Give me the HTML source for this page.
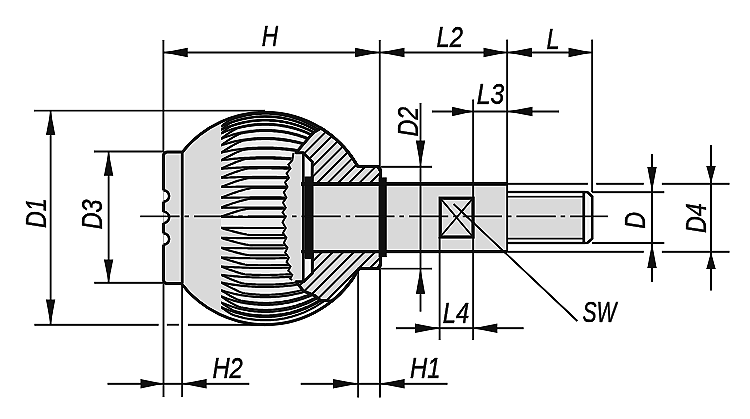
<!DOCTYPE html>
<html><head><meta charset="utf-8"><style>html,body{margin:0;padding:0;background:#fff;width:750px;height:419px;overflow:hidden}svg{display:block}</style></head>
<body><svg width="750" height="419" viewBox="0 0 750 419"><filter id="sh" x="0" y="0" width="100%" height="100%" color-interpolation-filters="sRGB"><feConvolveMatrix order="3" kernelMatrix="0 -0.35 0 -0.35 2.4 -0.35 0 -0.35 0" edgeMode="duplicate"/></filter><g filter="url(#sh)"><rect width="750" height="419" fill="#fff"/><path d="M163.5,155.90 Q163.5,151.90 167.5,151.90 L182.48,151.90 A106.2,106.2 0 0 1 357.85,166.60 L377.7,166.60 Q380.5,167.10 380.5,171.30 L380.5,263.90 Q380.5,268.10 377.7,268.60 L358.84,268.60 A106.2,106.2 0 0 1 181.14,283.40 L167.5,283.40 Q163.5,283.40 163.5,279.40 Z" fill="#d9d9d9" stroke="none"/>
<rect x="313" y="183.9" width="194.2" height="67.7" fill="#d9d9d9"/>

<clipPath id="kc"><polygon points="221.00,122.93 221.00,121.93 224.33,120.48 227.67,119.15 231.00,117.96 234.33,116.88 237.67,115.93 241.00,115.09 244.33,114.37 247.67,113.76 251.00,113.25 254.33,112.86 257.67,112.57 261.00,112.38 264.33,112.30 267.67,112.33 271.00,112.46 274.33,112.69 277.67,113.03 281.00,113.48 284.33,114.04 287.67,114.70 291.00,115.48 294.33,116.37 297.67,117.38 301.00,118.52 304.33,119.77 307.67,121.16 311.00,122.68 314.33,124.35 317.67,126.17 321.00,128.14 313.20,132.60 296.00,152.80 293.01,152.80 292.45,154.95 291.90,157.10 291.37,159.25 290.85,161.40 290.36,163.55 289.89,165.70 289.44,167.85 289.00,170.00 288.59,172.15 288.19,174.30 287.81,176.45 287.46,178.60 287.12,180.75 286.80,182.90 286.50,185.05 286.22,187.20 285.96,189.35 285.71,191.50 285.49,193.65 285.29,195.80 285.10,197.95 284.94,200.10 284.79,202.25 284.66,204.40 284.55,206.55 284.46,208.70 284.39,210.85 284.34,213.00 284.31,215.15 284.30,217.30 284.31,219.45 284.33,221.60 284.38,223.75 284.44,225.90 284.53,228.05 284.63,230.20 284.75,232.35 284.89,234.50 285.05,236.65 285.23,238.80 285.43,240.95 285.65,243.10 285.89,245.25 286.14,247.40 286.42,249.55 286.71,251.70 287.03,253.85 287.36,256.00 287.71,258.15 288.08,260.30 288.47,262.45 288.88,264.60 289.31,266.75 289.76,268.90 290.23,271.05 290.72,273.20 291.22,275.35 291.75,277.50 292.29,279.65 292.85,281.80 296.00,281.80 303.50,291.00 315.50,296.00 320.50,300.30 332.00,301.06 328.30,303.92 324.60,306.53 320.90,308.92 317.20,311.10 313.50,313.08 309.80,314.88 306.10,316.51 302.40,317.97 298.70,319.28 295.00,320.43 291.30,321.44 287.60,322.31 283.90,323.04 280.20,323.64 276.50,324.10 272.80,324.43 269.10,324.63 265.40,324.70 261.70,324.64 258.00,324.46 254.30,324.14 250.60,323.69 246.90,323.11 243.20,322.40 239.50,321.54 235.80,320.55 232.10,319.41 228.40,318.12 224.70,316.67 221.00,315.07"/></clipPath>
<g clip-path="url(#kc)"><polygon points="221.00,122.93 221.00,121.93 224.33,120.48 227.67,119.15 231.00,117.96 234.33,116.88 237.67,115.93 241.00,115.09 244.33,114.37 247.67,113.76 251.00,113.25 254.33,112.86 257.67,112.57 261.00,112.38 264.33,112.30 267.67,112.33 271.00,112.46 274.33,112.69 277.67,113.03 281.00,113.48 284.33,114.04 287.67,114.70 291.00,115.48 294.33,116.37 297.67,117.38 301.00,118.52 304.33,119.77 307.67,121.16 311.00,122.68 314.33,124.35 317.67,126.17 321.00,128.14 313.20,132.60 296.00,152.80 293.01,152.80 292.45,154.95 291.90,157.10 291.37,159.25 290.85,161.40 290.36,163.55 289.89,165.70 289.44,167.85 289.00,170.00 288.59,172.15 288.19,174.30 287.81,176.45 287.46,178.60 287.12,180.75 286.80,182.90 286.50,185.05 286.22,187.20 285.96,189.35 285.71,191.50 285.49,193.65 285.29,195.80 285.10,197.95 284.94,200.10 284.79,202.25 284.66,204.40 284.55,206.55 284.46,208.70 284.39,210.85 284.34,213.00 284.31,215.15 284.30,217.30 284.31,219.45 284.33,221.60 284.38,223.75 284.44,225.90 284.53,228.05 284.63,230.20 284.75,232.35 284.89,234.50 285.05,236.65 285.23,238.80 285.43,240.95 285.65,243.10 285.89,245.25 286.14,247.40 286.42,249.55 286.71,251.70 287.03,253.85 287.36,256.00 287.71,258.15 288.08,260.30 288.47,262.45 288.88,264.60 289.31,266.75 289.76,268.90 290.23,271.05 290.72,273.20 291.22,275.35 291.75,277.50 292.29,279.65 292.85,281.80 296.00,281.80 303.50,291.00 315.50,296.00 320.50,300.30 332.00,301.06 328.30,303.92 324.60,306.53 320.90,308.92 317.20,311.10 313.50,313.08 309.80,314.88 306.10,316.51 302.40,317.97 298.70,319.28 295.00,320.43 291.30,321.44 287.60,322.31 283.90,323.04 280.20,323.64 276.50,324.10 272.80,324.43 269.10,324.63 265.40,324.70 261.70,324.64 258.00,324.46 254.30,324.14 250.60,323.69 246.90,323.11 243.20,322.40 239.50,321.54 235.80,320.55 232.10,319.41 228.40,318.12 224.70,316.67 221.00,315.07" fill="#eaeaea"/><polygon points="221.00,124.00 222.98,123.02 224.97,122.10 226.95,121.22 228.93,120.40 230.92,119.63 230.92,119.97 228.93,120.74 226.95,121.96 224.97,123.38 222.98,124.94 221.00,126.60" fill="#d9d9d9"/><polygon points="221.00,126.60 222.98,125.65 224.97,124.75 226.95,123.90 228.93,123.10 230.92,122.35 232.90,121.65 232.90,122.08 230.92,122.78 228.93,123.90 226.95,125.23 224.97,126.69 222.98,128.25 221.00,129.90" fill="#d9d9d9"/><polygon points="221.00,129.90 222.98,128.98 224.97,128.11 226.95,127.30 228.93,126.53 230.92,125.80 232.90,125.13 232.90,125.59 230.92,126.40 228.93,127.58 226.95,128.91 224.97,130.35 222.98,131.88 221.00,133.50" fill="#d9d9d9"/><polygon points="221.00,133.50 222.98,132.62 224.97,131.79 226.95,131.00 228.93,130.26 230.92,129.57 232.90,128.92 234.88,128.31 236.87,127.75 238.85,127.22 238.85,127.93 236.87,128.48 234.88,129.42 232.90,130.52 230.92,131.73 228.93,133.03 226.95,134.40 224.97,135.84 222.98,137.34 221.00,138.90" fill="#d9d9d9"/><polygon points="221.00,138.90 222.98,138.08 224.97,137.31 226.95,136.59 228.93,135.91 230.92,135.26 232.90,134.66 234.88,134.10 236.87,133.58 238.85,133.09 240.83,132.65 240.83,133.49 238.85,134.20 236.87,135.16 234.88,136.23 232.90,137.38 230.92,138.60 228.93,139.87 226.95,141.20 224.97,142.57 222.98,143.97 221.00,145.40" fill="#d9d9d9"/><polygon points="221.00,145.40 222.98,144.72 224.97,144.08 226.95,143.48 228.93,142.91 230.92,142.37 232.90,141.87 234.88,141.40 236.87,140.97 238.85,140.56 240.83,140.19 242.82,139.85 242.82,140.78 240.83,141.43 238.85,142.30 236.87,143.27 234.88,144.32 232.90,145.42 230.92,146.56 228.93,147.74 226.95,148.94 224.97,150.16 222.98,151.38 221.00,152.60" fill="#d9d9d9"/><polygon points="221.00,152.60 222.98,152.14 224.97,151.71 226.95,151.30 228.93,150.91 230.92,150.54 232.90,150.20 234.88,149.88 236.87,149.58 238.85,149.30 240.83,149.04 242.82,148.81 244.80,148.59 244.80,149.59 242.82,150.00 240.83,150.69 238.85,151.48 236.87,152.34 234.88,153.25 232.90,154.20 230.92,155.19 228.93,156.19 226.95,157.21 224.97,158.24 222.98,159.27 221.00,160.30" fill="#d9d9d9"/><polygon points="221.00,160.30 222.98,160.03 224.97,159.78 226.95,159.54 228.93,159.31 230.92,159.10 232.90,158.90 234.88,158.71 236.87,158.53 238.85,158.37 240.83,158.21 242.82,158.07 244.80,157.95 246.78,157.83 246.78,158.92 244.80,159.23 242.82,159.78 240.83,160.41 238.85,161.10 236.87,161.85 234.88,162.63 232.90,163.45 230.92,164.28 228.93,165.14 226.95,166.02 224.97,166.91 222.98,167.80 221.00,168.70" fill="#d9d9d9"/><polygon points="221.00,168.70 222.98,168.55 224.97,168.41 226.95,168.28 228.93,168.15 230.92,168.04 232.90,167.92 234.88,167.82 236.87,167.72 238.85,167.63 240.83,167.54 242.82,167.47 244.80,167.40 246.78,167.33 248.77,167.27 248.77,168.46 246.78,168.71 244.80,169.17 242.82,169.70 240.83,170.29 238.85,170.93 236.87,171.60 234.88,172.30 232.90,173.03 230.92,173.79 228.93,174.56 226.95,175.35 224.97,176.16 222.98,176.97 221.00,177.80" fill="#d9d9d9"/><polygon points="221.00,177.80 222.98,177.72 224.97,177.64 226.95,177.57 228.93,177.50 230.92,177.44 232.90,177.38 234.88,177.32 236.87,177.26 238.85,177.21 240.83,177.17 242.82,177.12 244.80,177.09 246.78,177.05 248.77,177.02 248.77,178.21 246.78,178.49 244.80,178.91 242.82,179.41 240.83,179.96 238.85,180.55 236.87,181.17 234.88,181.82 232.90,182.51 230.92,183.21 228.93,183.93 226.95,184.68 224.97,185.44 222.98,186.21 221.00,187.00" fill="#d9d9d9"/><polygon points="221.00,187.00 222.98,186.96 224.97,186.91 226.95,186.87 228.93,186.83 230.92,186.80 232.90,186.76 234.88,186.73 236.87,186.70 238.85,186.67 240.83,186.64 242.82,186.62 244.80,186.60 246.78,186.58 248.77,186.56 250.75,186.55 252.73,186.53 254.72,186.52 254.72,187.82 252.73,187.86 250.75,188.17 248.77,188.57 246.78,189.04 244.80,189.55 242.82,190.10 240.83,190.69 238.85,191.30 236.87,191.93 234.88,192.59 232.90,193.27 230.92,193.97 228.93,194.69 226.95,195.42 224.97,196.17 222.98,196.93 221.00,197.70" fill="#d9d9d9"/><polygon points="221.00,197.70 222.98,197.68 224.97,197.66 226.95,197.64 228.93,197.62 230.92,197.60 232.90,197.58 234.88,197.56 236.87,197.55 238.85,197.53 240.83,197.52 242.82,197.51 244.80,197.50 246.78,197.49 248.77,197.48 250.75,197.47 250.75,198.76 248.77,199.02 246.78,199.40 244.80,199.85 242.82,200.35 240.83,200.89 238.85,201.46 236.87,202.06 234.88,202.68 232.90,203.33 230.92,204.00 228.93,204.68 226.95,205.39 224.97,206.11 222.98,206.85 221.00,207.60" fill="#d9d9d9"/><polygon points="221.00,207.60 222.98,207.59 224.97,207.58 226.95,207.57 228.93,207.56 230.92,207.55 232.90,207.55 234.88,207.54 236.87,207.53 238.85,207.52 240.83,207.52 242.82,207.51 244.80,207.51 246.78,207.50 248.77,207.50 248.77,208.70 246.78,208.93 244.80,209.32 242.82,209.77 240.83,210.27 238.85,210.81 236.87,211.38 234.88,211.98 232.90,212.61 230.92,213.26 228.93,213.93 226.95,214.62 224.97,215.33 222.98,216.06 221.00,216.80" fill="#d9d9d9"/><polygon points="221.00,237.90 222.98,237.92 224.97,237.94 226.95,237.96 228.93,237.98 230.92,237.99 232.90,238.01 234.88,238.02 236.87,238.04 238.85,238.05 240.83,238.06 242.82,238.07 244.80,238.08 246.78,238.09 248.77,238.10 250.75,238.11 252.73,238.12 252.73,235.12 250.75,235.09 248.77,234.86 246.78,234.54 244.80,234.17 242.82,233.76 240.83,233.33 238.85,232.86 236.87,232.38 234.88,231.87 232.90,231.35 230.92,230.81 228.93,230.25 226.95,229.68 224.97,229.10 222.98,228.51 221.00,227.90" fill="#d9d9d9"/><polygon points="221.00,247.90 222.98,247.94 224.97,247.98 226.95,248.01 228.93,248.05 230.92,248.08 232.90,248.11 234.88,248.14 236.87,248.16 238.85,248.19 240.83,248.21 242.82,248.23 244.80,248.25 246.78,248.27 248.77,248.29 250.75,248.30 252.73,248.31 252.73,245.31 250.75,245.29 248.77,245.04 246.78,244.71 244.80,244.33 242.82,243.91 240.83,243.46 238.85,242.98 236.87,242.49 234.88,241.97 232.90,241.43 230.92,240.87 228.93,240.30 226.95,239.72 224.97,239.13 222.98,238.52 221.00,237.90" fill="#d9d9d9"/><polygon points="221.00,257.50 222.98,257.57 224.97,257.64 226.95,257.71 228.93,257.77 230.92,257.83 232.90,257.88 234.88,257.93 236.87,257.98 238.85,258.03 240.83,258.07 242.82,258.11 244.80,258.14 246.78,258.17 248.77,258.20 250.75,258.23 250.75,255.35 248.77,255.23 246.78,254.92 244.80,254.54 242.82,254.12 240.83,253.66 238.85,253.17 236.87,252.65 234.88,252.11 232.90,251.55 230.92,250.98 228.93,250.39 226.95,249.78 224.97,249.17 222.98,248.54 221.00,247.90" fill="#d9d9d9"/><polygon points="221.00,266.50 222.98,266.63 224.97,266.75 226.95,266.87 228.93,266.98 230.92,267.09 232.90,267.19 234.88,267.28 236.87,267.37 238.85,267.45 240.83,267.52 242.82,267.59 244.80,267.65 246.78,267.71 248.77,267.76 248.77,265.06 246.78,264.89 244.80,264.53 242.82,264.10 240.83,263.62 238.85,263.10 236.87,262.55 234.88,261.98 232.90,261.38 230.92,260.77 228.93,260.14 226.95,259.49 224.97,258.84 222.98,258.17 221.00,257.50" fill="#d9d9d9"/><polygon points="221.00,274.90 222.98,275.13 224.97,275.36 226.95,275.57 228.93,275.77 230.92,275.96 232.90,276.13 234.88,276.30 236.87,276.46 238.85,276.60 240.83,276.73 242.82,276.86 244.80,276.97 246.78,277.07 246.78,274.55 244.80,274.29 242.82,273.84 240.83,273.32 238.85,272.74 236.87,272.13 234.88,271.48 232.90,270.81 230.92,270.12 228.93,269.42 226.95,268.70 224.97,267.97 222.98,267.23 221.00,266.50" fill="#d9d9d9"/><polygon points="221.00,282.50 222.98,282.90 224.97,283.29 226.95,283.65 228.93,283.99 230.92,284.31 232.90,284.62 234.88,284.90 236.87,285.16 238.85,285.41 240.83,285.64 242.82,285.85 244.80,286.04 244.80,283.76 242.82,283.45 240.83,282.89 238.85,282.23 236.87,281.52 234.88,280.76 232.90,279.96 230.92,279.14 228.93,278.30 226.95,277.45 224.97,276.60 222.98,275.75 221.00,274.90" fill="#d9d9d9"/><polygon points="221.00,290.20 222.98,290.84 224.97,291.44 226.95,292.01 228.93,292.55 230.92,293.05 232.90,293.52 234.88,293.96 236.87,294.38 238.85,294.76 240.83,295.11 242.82,295.43 244.80,295.73 244.80,293.42 242.82,292.95 240.83,292.24 238.85,291.42 236.87,290.54 234.88,289.61 232.90,288.64 230.92,287.64 228.93,286.62 226.95,285.59 224.97,284.56 222.98,283.52 221.00,282.50" fill="#d9d9d9"/><polygon points="221.00,296.30 222.98,297.08 224.97,297.83 226.95,298.53 228.93,299.18 230.92,299.80 232.90,300.38 234.88,300.92 236.87,301.43 238.85,301.89 240.83,302.32 240.83,300.49 238.85,300.02 236.87,299.22 234.88,298.29 232.90,297.27 230.92,296.19 228.93,295.06 226.95,293.88 224.97,292.68 222.98,291.45 221.00,290.20" fill="#d9d9d9"/><polygon points="221.00,302.40 222.98,303.27 224.97,304.09 226.95,304.87 228.93,305.59 230.92,306.28 232.90,306.92 234.88,307.52 236.87,308.08 238.85,308.59 240.83,309.07 240.83,307.24 238.85,306.72 236.87,305.90 234.88,304.94 232.90,303.89 230.92,302.76 228.93,301.58 226.95,300.33 224.97,299.03 222.98,297.69 221.00,296.30" fill="#d9d9d9"/><polygon points="221.00,307.00 222.98,307.92 224.97,308.78 226.95,309.60 228.93,310.37 230.92,311.09 232.90,311.77 234.88,312.40 234.88,311.02 232.90,310.13 230.92,309.05 228.93,307.87 226.95,306.61 224.97,305.27 222.98,303.87 221.00,302.40" fill="#d9d9d9"/><polygon points="221.00,311.00 222.98,311.96 224.97,312.86 226.95,313.72 228.93,314.52 230.92,315.28 232.90,315.98 234.88,316.64 234.88,315.44 232.90,314.78 230.92,313.77 228.93,312.60 226.95,311.32 224.97,309.95 222.98,308.51 221.00,307.00" fill="#d9d9d9"/><polyline points="221.00,126.60 222.98,125.65 224.97,124.75 226.95,123.90 228.93,123.10 230.92,122.35 232.90,121.65 234.88,120.99 236.87,120.38 238.85,119.82 240.83,119.29 242.82,118.81 244.80,118.38 246.78,117.98 248.77,117.63 250.75,117.32 252.73,117.05 254.72,116.82 256.70,116.63 258.68,116.48 260.67,116.37 262.65,116.30 264.63,116.27 266.62,116.28 268.60,116.32 270.58,116.41 272.57,116.54 274.55,116.71 276.53,116.91 278.52,117.16 280.50,117.45 282.48,117.78 284.47,118.15 286.45,118.56 288.43,119.01 290.42,119.51 292.40,120.05 294.38,120.64 296.37,121.27 298.35,121.94 300.33,122.67 302.32,123.44 304.30,124.26 306.28,125.13 308.27,126.05 310.25,127.02 312.23,128.06 314.22,129.14 316.20,130.29 318.18,131.50 320.17,132.77 322.15,134.11 324.13,135.52 326.12,137.01 328.10,138.57 330.08,140.21 332.07,141.95 334.05,143.77 336.03,145.70 338.02,147.74 340.00,149.90" fill="none" stroke="#111" stroke-width="2.2"/><polyline points="221.00,126.60 222.98,124.94 224.97,123.38 226.95,121.96 228.93,120.74 230.92,119.97 232.90,119.25 234.88,118.57 236.87,117.94 238.85,117.36 240.83,116.82 242.82,116.33 244.80,115.88 246.78,115.48 248.77,115.12 250.75,114.80 252.73,114.52 254.72,114.28 256.70,114.09 258.68,113.93 260.67,113.82 262.65,113.75 264.63,113.71 266.62,113.72 268.60,113.77 270.58,113.86 272.57,113.99 274.55,114.16 276.53,114.38 278.52,114.63 280.50,114.93 282.48,115.27 284.47,115.65 286.45,116.07 288.43,116.54 290.42,117.05 292.40,117.61 294.38,118.21 296.37,118.85 298.35,119.55 300.33,120.29 302.32,121.09 304.30,121.93 306.28,122.82 308.27,123.77 310.25,124.77 312.23,125.83 314.22,126.95 316.20,128.13 318.18,129.38 320.17,130.68 322.15,132.06 324.13,133.51 326.12,135.04 328.10,136.64 330.08,138.34 332.07,140.12 334.05,142.00 336.03,143.98 338.02,146.07 340.00,148.29" fill="none" stroke="#111" stroke-width="2.2"/><polyline points="221.00,129.90 222.98,128.98 224.97,128.11 226.95,127.30 228.93,126.53 230.92,125.80 232.90,125.13 234.88,124.49 236.87,123.90 238.85,123.36 240.83,122.86 242.82,122.39 244.80,121.97 246.78,121.59 248.77,121.25 250.75,120.95 252.73,120.69 254.72,120.47 256.70,120.29 258.68,120.14 260.67,120.04 262.65,119.97 264.63,119.94 266.62,119.95 268.60,119.99 270.58,120.08 272.57,120.20 274.55,120.36 276.53,120.56 278.52,120.80 280.50,121.08 282.48,121.39 284.47,121.75 286.45,122.15 288.43,122.59 290.42,123.07 292.40,123.59 294.38,124.15 296.37,124.76 298.35,125.41 300.33,126.11 302.32,126.85 304.30,127.64 306.28,128.48 308.27,129.37 310.25,130.31 312.23,131.30 314.22,132.35 316.20,133.46 318.18,134.62 320.17,135.85 322.15,137.14 324.13,138.50 326.12,139.93 328.10,141.44 330.08,143.02 332.07,144.69 334.05,146.46 336.03,148.31 338.02,150.28 340.00,152.36" fill="none" stroke="#111" stroke-width="2.2"/><polyline points="221.00,129.90 222.98,128.25 224.97,126.69 226.95,125.23 228.93,123.90 230.92,122.78 232.90,122.08 234.88,121.42 236.87,120.81 238.85,120.24 240.83,119.72 242.82,119.24 244.80,118.81 246.78,118.41 248.77,118.06 250.75,117.75 252.73,117.48 254.72,117.25 256.70,117.06 258.68,116.91 260.67,116.80 262.65,116.73 264.63,116.70 266.62,116.71 268.60,116.75 270.58,116.84 272.57,116.97 274.55,117.14 276.53,117.34 278.52,117.59 280.50,117.88 282.48,118.21 284.47,118.58 286.45,118.99 288.43,119.44 290.42,119.94 292.40,120.48 294.38,121.07 296.37,121.70 298.35,122.37 300.33,123.09 302.32,123.87 304.30,124.69 306.28,125.56 308.27,126.48 310.25,127.45 312.23,128.48 314.22,129.57 316.20,130.72 318.18,131.93 320.17,133.20 322.15,134.54 324.13,135.95 326.12,137.43 328.10,139.00 330.08,140.64 332.07,142.37 334.05,144.20 336.03,146.13 338.02,148.17 340.00,150.32" fill="none" stroke="#111" stroke-width="2.2"/><polyline points="221.00,133.50 222.98,132.62 224.97,131.79 226.95,131.00 228.93,130.26 230.92,129.57 232.90,128.92 234.88,128.31 236.87,127.75 238.85,127.22 240.83,126.74 242.82,126.30 244.80,125.90 246.78,125.53 248.77,125.21 250.75,124.92 252.73,124.67 254.72,124.45 256.70,124.28 258.68,124.14 260.67,124.04 262.65,123.97 264.63,123.94 266.62,123.95 268.60,124.00 270.58,124.08 272.57,124.20 274.55,124.35 276.53,124.54 278.52,124.77 280.50,125.04 282.48,125.34 284.47,125.68 286.45,126.06 288.43,126.48 290.42,126.94 292.40,127.44 294.38,127.98 296.37,128.57 298.35,129.19 300.33,129.86 302.32,130.57 304.30,131.33 306.28,132.14 308.27,132.99 310.25,133.89 312.23,134.85 314.22,135.85 316.20,136.91 318.18,138.03 320.17,139.21 322.15,140.45 324.13,141.75 326.12,143.12 328.10,144.57 330.08,146.09 332.07,147.69 334.05,149.38 336.03,151.17 338.02,153.05 340.00,155.05" fill="none" stroke="#111" stroke-width="2.2"/><polyline points="221.00,133.50 222.98,131.88 224.97,130.35 226.95,128.91 228.93,127.58 230.92,126.40 232.90,125.59 234.88,124.96 236.87,124.37 238.85,123.83 240.83,123.32 242.82,122.86 244.80,122.44 246.78,122.06 248.77,121.72 250.75,121.42 252.73,121.16 254.72,120.94 256.70,120.76 258.68,120.61 260.67,120.51 262.65,120.44 264.63,120.41 266.62,120.42 268.60,120.46 270.58,120.55 272.57,120.67 274.55,120.83 276.53,121.03 278.52,121.27 280.50,121.55 282.48,121.86 284.47,122.22 286.45,122.62 288.43,123.05 290.42,123.53 292.40,124.06 294.38,124.62 296.37,125.23 298.35,125.88 300.33,126.58 302.32,127.32 304.30,128.11 306.28,128.95 308.27,129.84 310.25,130.78 312.23,131.77 314.22,132.82 316.20,133.93 318.18,135.09 320.17,136.32 322.15,137.61 324.13,138.97 326.12,140.40 328.10,141.91 330.08,143.49 332.07,145.16 334.05,146.92 336.03,148.78 338.02,150.75 340.00,152.83" fill="none" stroke="#111" stroke-width="2.2"/><polyline points="221.00,138.90 222.98,138.08 224.97,137.31 226.95,136.59 228.93,135.91 230.92,135.26 232.90,134.66 234.88,134.10 236.87,133.58 238.85,133.09 240.83,132.65 242.82,132.24 244.80,131.86 246.78,131.52 248.77,131.22 250.75,130.96 252.73,130.72 254.72,130.53 256.70,130.36 258.68,130.24 260.67,130.14 262.65,130.08 264.63,130.05 266.62,130.06 268.60,130.10 270.58,130.18 272.57,130.29 274.55,130.43 276.53,130.61 278.52,130.82 280.50,131.07 282.48,131.35 284.47,131.67 286.45,132.02 288.43,132.41 290.42,132.83 292.40,133.30 294.38,133.80 296.37,134.34 298.35,134.91 300.33,135.53 302.32,136.19 304.30,136.89 306.28,137.64 308.27,138.43 310.25,139.26 312.23,140.15 314.22,141.08 316.20,142.06 318.18,143.09 320.17,144.18 322.15,145.32 324.13,146.53 326.12,147.80 328.10,149.13 330.08,150.53 332.07,152.01 334.05,153.57 336.03,155.22 338.02,156.95 340.00,158.79" fill="none" stroke="#111" stroke-width="2.2"/><polyline points="221.00,138.90 222.98,137.34 224.97,135.84 226.95,134.40 228.93,133.03 230.92,131.73 232.90,130.52 234.88,129.42 236.87,128.48 238.85,127.93 240.83,127.44 242.82,127.00 244.80,126.60 246.78,126.23 248.77,125.91 250.75,125.62 252.73,125.37 254.72,125.16 256.70,124.98 258.68,124.84 260.67,124.74 262.65,124.67 264.63,124.65 266.62,124.65 268.60,124.70 270.58,124.78 272.57,124.90 274.55,125.05 276.53,125.24 278.52,125.47 280.50,125.74 282.48,126.04 284.47,126.38 286.45,126.77 288.43,127.19 290.42,127.65 292.40,128.15 294.38,128.69 296.37,129.27 298.35,129.89 300.33,130.56 302.32,131.28 304.30,132.03 306.28,132.84 308.27,133.69 310.25,134.59 312.23,135.55 314.22,136.55 316.20,137.62 318.18,138.73 320.17,139.91 322.15,141.15 324.13,142.45 326.12,143.83 328.10,145.27 330.08,146.79 332.07,148.40 334.05,150.08 336.03,151.87 338.02,153.75 340.00,155.75" fill="none" stroke="#111" stroke-width="2.2"/><polyline points="221.00,145.40 222.98,144.72 224.97,144.08 226.95,143.48 228.93,142.91 230.92,142.37 232.90,141.87 234.88,141.40 236.87,140.97 238.85,140.56 240.83,140.19 242.82,139.85 244.80,139.54 246.78,139.25 248.77,139.00 250.75,138.78 252.73,138.58 254.72,138.42 256.70,138.28 258.68,138.17 260.67,138.10 262.65,138.05 264.63,138.02 266.62,138.03 268.60,138.06 270.58,138.13 272.57,138.22 274.55,138.34 276.53,138.49 278.52,138.66 280.50,138.87 282.48,139.11 284.47,139.37 286.45,139.67 288.43,139.99 290.42,140.35 292.40,140.73 294.38,141.15 296.37,141.60 298.35,142.08 300.33,142.60 302.32,143.15 304.30,143.73 306.28,144.35 308.27,145.01 310.25,145.70 312.23,146.43 314.22,147.20 316.20,148.02 318.18,148.87 320.17,149.77 322.15,150.71 324.13,151.70 326.12,152.74 328.10,153.83 330.08,154.98 332.07,156.18 334.05,157.45 336.03,158.78 338.02,160.18 340.00,161.65" fill="none" stroke="#111" stroke-width="2.2"/><polyline points="221.00,145.40 222.98,143.97 224.97,142.57 226.95,141.20 228.93,139.87 230.92,138.60 232.90,137.38 234.88,136.23 236.87,135.16 238.85,134.20 240.83,133.49 242.82,133.08 244.80,132.71 246.78,132.37 248.77,132.07 250.75,131.80 252.73,131.57 254.72,131.37 256.70,131.21 258.68,131.08 260.67,130.99 262.65,130.93 264.63,130.90 266.62,130.91 268.60,130.95 270.58,131.02 272.57,131.13 274.55,131.28 276.53,131.45 278.52,131.66 280.50,131.91 282.48,132.19 284.47,132.51 286.45,132.86 288.43,133.25 290.42,133.68 292.40,134.14 294.38,134.64 296.37,135.18 298.35,135.76 300.33,136.38 302.32,137.04 304.30,137.74 306.28,138.48 308.27,139.27 310.25,140.11 312.23,140.99 314.22,141.92 316.20,142.90 318.18,143.94 320.17,145.02 322.15,146.17 324.13,147.37 326.12,148.64 328.10,149.98 330.08,151.38 332.07,152.86 334.05,154.42 336.03,156.06 338.02,157.80 340.00,159.64" fill="none" stroke="#111" stroke-width="2.2"/><polyline points="221.00,152.60 222.98,152.14 224.97,151.71 226.95,151.30 228.93,150.91 230.92,150.54 232.90,150.20 234.88,149.88 236.87,149.58 238.85,149.30 240.83,149.04 242.82,148.81 244.80,148.59 246.78,148.40 248.77,148.22 250.75,148.07 252.73,147.94 254.72,147.82 256.70,147.73 258.68,147.65 260.67,147.60 262.65,147.56 264.63,147.55 266.62,147.55 268.60,147.58 270.58,147.62 272.57,147.68 274.55,147.76 276.53,147.87 278.52,147.99 280.50,148.13 282.48,148.30 284.47,148.48 286.45,148.68 288.43,148.91 290.42,149.15 292.40,149.42 294.38,149.70 296.37,150.01 298.35,150.34 300.33,150.70 302.32,151.07 304.30,151.47 306.28,151.89 308.27,152.33 310.25,152.80 312.23,153.30 314.22,153.82 316.20,154.36 318.18,154.93 320.17,155.53 322.15,156.16 324.13,156.82 326.12,157.50 328.10,158.22 330.08,158.97 332.07,159.75 334.05,160.57 336.03,161.42 338.02,162.31 340.00,163.24" fill="none" stroke="#111" stroke-width="2.2"/><polyline points="221.00,152.60 222.98,151.38 224.97,150.16 226.95,148.94 228.93,147.74 230.92,146.56 232.90,145.42 234.88,144.32 236.87,143.27 238.85,142.30 240.83,141.43 242.82,140.78 244.80,140.47 246.78,140.19 248.77,139.94 250.75,139.71 252.73,139.52 254.72,139.35 256.70,139.22 258.68,139.11 260.67,139.03 262.65,138.98 264.63,138.96 266.62,138.96 268.60,139.00 270.58,139.06 272.57,139.15 274.55,139.27 276.53,139.42 278.52,139.60 280.50,139.81 282.48,140.04 284.47,140.31 286.45,140.60 288.43,140.93 290.42,141.28 292.40,141.67 294.38,142.09 296.37,142.54 298.35,143.02 300.33,143.54 302.32,144.09 304.30,144.67 306.28,145.29 308.27,145.94 310.25,146.64 312.23,147.37 314.22,148.14 316.20,148.95 318.18,149.80 320.17,150.70 322.15,151.65 324.13,152.64 326.12,153.68 328.10,154.77 330.08,155.91 332.07,157.12 334.05,158.38 336.03,159.72 338.02,161.12 340.00,162.59" fill="none" stroke="#111" stroke-width="2.2"/><polyline points="221.00,160.30 222.98,160.03 224.97,159.78 226.95,159.54 228.93,159.31 230.92,159.10 232.90,158.90 234.88,158.71 236.87,158.53 238.85,158.37 240.83,158.21 242.82,158.07 244.80,157.95 246.78,157.83 248.77,157.73 250.75,157.64 252.73,157.56 254.72,157.49 256.70,157.43 258.68,157.39 260.67,157.36 262.65,157.33 264.63,157.33 266.62,157.33 268.60,157.34 270.58,157.37 272.57,157.41 274.55,157.46 276.53,157.52 278.52,157.59 280.50,157.67 282.48,157.77 284.47,157.88 286.45,158.00 288.43,158.13 290.42,158.28 292.40,158.43 294.38,158.60 296.37,158.79 298.35,158.98 300.33,159.19 302.32,159.41 304.30,159.64 306.28,159.89 308.27,160.15 310.25,160.42 312.23,160.71 314.22,161.01 316.20,161.32 318.18,161.65 320.17,161.99 322.15,162.35 324.13,162.72 326.12,163.11 328.10,163.52 330.08,163.94 332.07,164.37 334.05,164.83 336.03,165.30 338.02,165.79 340.00,166.30" fill="none" stroke="#111" stroke-width="2.2"/><polyline points="221.00,160.30 222.98,159.27 224.97,158.24 226.95,157.21 228.93,156.19 230.92,155.19 232.90,154.20 234.88,153.25 236.87,152.34 238.85,151.48 240.83,150.69 242.82,150.00 244.80,149.59 246.78,149.40 248.77,149.22 250.75,149.07 252.73,148.94 254.72,148.82 256.70,148.73 258.68,148.65 260.67,148.60 262.65,148.56 264.63,148.55 266.62,148.55 268.60,148.58 270.58,148.62 272.57,148.68 274.55,148.77 276.53,148.87 278.52,148.99 280.50,149.13 282.48,149.30 284.47,149.48 286.45,149.68 288.43,149.91 290.42,150.15 292.40,150.42 294.38,150.70 296.37,151.01 298.35,151.34 300.33,151.70 302.32,152.07 304.30,152.47 306.28,152.89 308.27,153.34 310.25,153.81 312.23,154.30 314.22,154.82 316.20,155.36 318.18,155.94 320.17,156.53 322.15,157.16 324.13,157.82 326.12,158.50 328.10,159.22 330.08,159.97 332.07,160.75 334.05,161.57 336.03,162.42 338.02,163.31 340.00,164.24" fill="none" stroke="#111" stroke-width="2.2"/><polyline points="221.00,168.70 222.98,168.55 224.97,168.41 226.95,168.28 228.93,168.15 230.92,168.04 232.90,167.92 234.88,167.82 236.87,167.72 238.85,167.63 240.83,167.54 242.82,167.47 244.80,167.40 246.78,167.33 248.77,167.27 250.75,167.22 252.73,167.18 254.72,167.14 256.70,167.11 258.68,167.08 260.67,167.07 262.65,167.05 264.63,167.05 266.62,167.05 268.60,167.06 270.58,167.07 272.57,167.09 274.55,167.12 276.53,167.16 278.52,167.20 280.50,167.24 282.48,167.30 284.47,167.36 286.45,167.43 288.43,167.50 290.42,167.58 292.40,167.67 294.38,167.76 296.37,167.86 298.35,167.97 300.33,168.09 302.32,168.21 304.30,168.34 306.28,168.47 308.27,168.62 310.25,168.77 312.23,168.92 314.22,169.09 316.20,169.26 318.18,169.44 320.17,169.63 322.15,169.82 324.13,170.02 326.12,170.23 328.10,170.45 330.08,170.68 332.07,170.91 334.05,171.16 336.03,171.41 338.02,171.67 340.00,171.94" fill="none" stroke="#111" stroke-width="2.2"/><polyline points="221.00,168.70 222.98,167.80 224.97,166.91 226.95,166.02 228.93,165.14 230.92,164.28 232.90,163.45 234.88,162.63 236.87,161.85 238.85,161.10 240.83,160.41 242.82,159.78 244.80,159.23 246.78,158.92 248.77,158.82 250.75,158.73 252.73,158.65 254.72,158.58 256.70,158.52 258.68,158.48 260.67,158.45 262.65,158.43 264.63,158.42 266.62,158.42 268.60,158.43 270.58,158.46 272.57,158.50 274.55,158.55 276.53,158.61 278.52,158.68 280.50,158.77 282.48,158.86 284.47,158.97 286.45,159.09 288.43,159.22 290.42,159.37 292.40,159.53 294.38,159.70 296.37,159.88 298.35,160.07 300.33,160.28 302.32,160.50 304.30,160.73 306.28,160.98 308.27,161.24 310.25,161.51 312.23,161.80 314.22,162.10 316.20,162.41 318.18,162.74 320.17,163.08 322.15,163.44 324.13,163.82 326.12,164.20 328.10,164.61 330.08,165.03 332.07,165.47 334.05,165.92 336.03,166.39 338.02,166.88 340.00,167.39" fill="none" stroke="#111" stroke-width="2.2"/><polyline points="221.00,177.80 222.98,177.72 224.97,177.64 226.95,177.57 228.93,177.50 230.92,177.44 232.90,177.38 234.88,177.32 236.87,177.26 238.85,177.21 240.83,177.17 242.82,177.12 244.80,177.09 246.78,177.05 248.77,177.02 250.75,176.99 252.73,176.97 254.72,176.94 256.70,176.93 258.68,176.91 260.67,176.90 262.65,176.90 264.63,176.89 266.62,176.90 268.60,176.90 270.58,176.91 272.57,176.92 274.55,176.93 276.53,176.95 278.52,176.98 280.50,177.00 282.48,177.03 284.47,177.07 286.45,177.10 288.43,177.14 290.42,177.19 292.40,177.24 294.38,177.29 296.37,177.34 298.35,177.40 300.33,177.46 302.32,177.53 304.30,177.60 306.28,177.68 308.27,177.75 310.25,177.84 312.23,177.92 314.22,178.01 316.20,178.10 318.18,178.20 320.17,178.30 322.15,178.41 324.13,178.52 326.12,178.63 328.10,178.75 330.08,178.87 332.07,179.00 334.05,179.13 336.03,179.26 338.02,179.40 340.00,179.54" fill="none" stroke="#111" stroke-width="2.2"/><polyline points="221.00,177.80 222.98,176.97 224.97,176.16 226.95,175.35 228.93,174.56 230.92,173.79 232.90,173.03 234.88,172.30 236.87,171.60 238.85,170.93 240.83,170.29 242.82,169.70 244.80,169.17 246.78,168.71 248.77,168.46 250.75,168.41 252.73,168.36 254.72,168.32 256.70,168.29 258.68,168.27 260.67,168.25 262.65,168.24 264.63,168.23 266.62,168.23 268.60,168.24 270.58,168.26 272.57,168.28 274.55,168.30 276.53,168.34 278.52,168.38 280.50,168.43 282.48,168.48 284.47,168.54 286.45,168.61 288.43,168.68 290.42,168.76 292.40,168.85 294.38,168.94 296.37,169.05 298.35,169.15 300.33,169.27 302.32,169.39 304.30,169.52 306.28,169.66 308.27,169.80 310.25,169.95 312.23,170.11 314.22,170.27 316.20,170.44 318.18,170.62 320.17,170.81 322.15,171.00 324.13,171.21 326.12,171.42 328.10,171.64 330.08,171.86 332.07,172.10 334.05,172.34 336.03,172.59 338.02,172.85 340.00,173.12" fill="none" stroke="#111" stroke-width="2.2"/><polyline points="221.00,187.00 222.98,186.96 224.97,186.91 226.95,186.87 228.93,186.83 230.92,186.80 232.90,186.76 234.88,186.73 236.87,186.70 238.85,186.67 240.83,186.64 242.82,186.62 244.80,186.60 246.78,186.58 248.77,186.56 250.75,186.55 252.73,186.53 254.72,186.52 256.70,186.51 258.68,186.50 260.67,186.50 262.65,186.49 264.63,186.49 266.62,186.49 268.60,186.49 270.58,186.50 272.57,186.51 274.55,186.51 276.53,186.52 278.52,186.54 280.50,186.55 282.48,186.57 284.47,186.59 286.45,186.61 288.43,186.63 290.42,186.66 292.40,186.68 294.38,186.71 296.37,186.74 298.35,186.78 300.33,186.81 302.32,186.85 304.30,186.89 306.28,186.93 308.27,186.97 310.25,187.02 312.23,187.07 314.22,187.12 316.20,187.17 318.18,187.22 320.17,187.28 322.15,187.34 324.13,187.40 326.12,187.46 328.10,187.53 330.08,187.60 332.07,187.67 334.05,187.74 336.03,187.82 338.02,187.89 340.00,187.97" fill="none" stroke="#111" stroke-width="2.2"/><polyline points="221.00,187.00 222.98,186.21 224.97,185.44 226.95,184.68 228.93,183.93 230.92,183.21 232.90,182.51 234.88,181.82 236.87,181.17 238.85,180.55 240.83,179.96 242.82,179.41 244.80,178.91 246.78,178.49 248.77,178.21 250.75,178.19 252.73,178.16 254.72,178.14 256.70,178.12 258.68,178.11 260.67,178.10 262.65,178.09 264.63,178.09 266.62,178.09 268.60,178.10 270.58,178.10 272.57,178.12 274.55,178.13 276.53,178.15 278.52,178.17 280.50,178.20 282.48,178.23 284.47,178.26 286.45,178.30 288.43,178.34 290.42,178.38 292.40,178.43 294.38,178.48 296.37,178.54 298.35,178.60 300.33,178.66 302.32,178.73 304.30,178.80 306.28,178.87 308.27,178.95 310.25,179.03 312.23,179.12 314.22,179.21 316.20,179.30 318.18,179.40 320.17,179.50 322.15,179.60 324.13,179.71 326.12,179.83 328.10,179.95 330.08,180.07 332.07,180.19 334.05,180.32 336.03,180.46 338.02,180.60 340.00,180.74" fill="none" stroke="#111" stroke-width="2.2"/><polyline points="221.00,197.70 222.98,197.68 224.97,197.66 226.95,197.64 228.93,197.62 230.92,197.60 232.90,197.58 234.88,197.56 236.87,197.55 238.85,197.53 240.83,197.52 242.82,197.51 244.80,197.50 246.78,197.49 248.77,197.48 250.75,197.47 252.73,197.46 254.72,197.46 256.70,197.45 258.68,197.45 260.67,197.45 262.65,197.44 264.63,197.44 266.62,197.44 268.60,197.44 270.58,197.45 272.57,197.45 274.55,197.45 276.53,197.46 278.52,197.47 280.50,197.47 282.48,197.48 284.47,197.49 286.45,197.50 288.43,197.51 290.42,197.53 292.40,197.54 294.38,197.55 296.37,197.57 298.35,197.59 300.33,197.60 302.32,197.62 304.30,197.64 306.28,197.66 308.27,197.69 310.25,197.71 312.23,197.73 314.22,197.76 316.20,197.79 318.18,197.81 320.17,197.84 322.15,197.87 324.13,197.90 326.12,197.93 328.10,197.97 330.08,198.00 332.07,198.04 334.05,198.07 336.03,198.11 338.02,198.15 340.00,198.19" fill="none" stroke="#111" stroke-width="2.2"/><polyline points="221.00,197.70 222.98,196.93 224.97,196.17 226.95,195.42 228.93,194.69 230.92,193.97 232.90,193.27 234.88,192.59 236.87,191.93 238.85,191.30 240.83,190.69 242.82,190.10 244.80,189.55 246.78,189.04 248.77,188.57 250.75,188.17 252.73,187.86 254.72,187.82 256.70,187.81 258.68,187.80 260.67,187.80 262.65,187.79 264.63,187.79 266.62,187.79 268.60,187.79 270.58,187.80 272.57,187.81 274.55,187.81 276.53,187.82 278.52,187.84 280.50,187.85 282.48,187.87 284.47,187.89 286.45,187.91 288.43,187.93 290.42,187.96 292.40,187.98 294.38,188.01 296.37,188.04 298.35,188.08 300.33,188.11 302.32,188.15 304.30,188.19 306.28,188.23 308.27,188.27 310.25,188.32 312.23,188.37 314.22,188.42 316.20,188.47 318.18,188.52 320.17,188.58 322.15,188.64 324.13,188.70 326.12,188.76 328.10,188.83 330.08,188.90 332.07,188.97 334.05,189.04 336.03,189.12 338.02,189.19 340.00,189.27" fill="none" stroke="#111" stroke-width="2.2"/><polyline points="221.00,207.60 222.98,207.59 224.97,207.58 226.95,207.57 228.93,207.56 230.92,207.55 232.90,207.55 234.88,207.54 236.87,207.53 238.85,207.52 240.83,207.52 242.82,207.51 244.80,207.51 246.78,207.50 248.77,207.50 250.75,207.50 252.73,207.49 254.72,207.49 256.70,207.49 258.68,207.49 260.67,207.48 262.65,207.48 264.63,207.48 266.62,207.48 268.60,207.48 270.58,207.49 272.57,207.49 274.55,207.49 276.53,207.49 278.52,207.49 280.50,207.50 282.48,207.50 284.47,207.51 286.45,207.51 288.43,207.52 290.42,207.52 292.40,207.53 294.38,207.53 296.37,207.54 298.35,207.55 300.33,207.56 302.32,207.57 304.30,207.57 306.28,207.58 308.27,207.59 310.25,207.60 312.23,207.62 314.22,207.63 316.20,207.64 318.18,207.65 320.17,207.66 322.15,207.68 324.13,207.69 326.12,207.71 328.10,207.72 330.08,207.74 332.07,207.75 334.05,207.77 336.03,207.79 338.02,207.80 340.00,207.82" fill="none" stroke="#111" stroke-width="2.2"/><polyline points="221.00,207.60 222.98,206.85 224.97,206.11 226.95,205.39 228.93,204.68 230.92,204.00 232.90,203.33 234.88,202.68 236.87,202.06 238.85,201.46 240.83,200.89 242.82,200.35 244.80,199.85 246.78,199.40 248.77,199.02 250.75,198.76 252.73,198.75 254.72,198.74 256.70,198.74 258.68,198.74 260.67,198.73 262.65,198.73 264.63,198.73 266.62,198.73 268.60,198.73 270.58,198.73 272.57,198.74 274.55,198.74 276.53,198.75 278.52,198.75 280.50,198.76 282.48,198.77 284.47,198.78 286.45,198.79 288.43,198.80 290.42,198.81 292.40,198.83 294.38,198.84 296.37,198.86 298.35,198.87 300.33,198.89 302.32,198.91 304.30,198.93 306.28,198.95 308.27,198.97 310.25,199.00 312.23,199.02 314.22,199.05 316.20,199.07 318.18,199.10 320.17,199.13 322.15,199.16 324.13,199.19 326.12,199.22 328.10,199.25 330.08,199.29 332.07,199.32 334.05,199.36 336.03,199.40 338.02,199.44 340.00,199.48" fill="none" stroke="#111" stroke-width="2.2"/><polyline points="221.00,216.80 222.98,216.80 224.97,216.80 226.95,216.80 228.93,216.79 230.92,216.79 232.90,216.79 234.88,216.79 236.87,216.79 238.85,216.79 240.83,216.79 242.82,216.79 244.80,216.79 246.78,216.79 248.77,216.79 250.75,216.78 252.73,216.78 254.72,216.78 256.70,216.78 258.68,216.78 260.67,216.78 262.65,216.78 264.63,216.78 266.62,216.78 268.60,216.78 270.58,216.78 272.57,216.78 274.55,216.78 276.53,216.78 278.52,216.78 280.50,216.78 282.48,216.79 284.47,216.79 286.45,216.79 288.43,216.79 290.42,216.79 292.40,216.79 294.38,216.79 296.37,216.79 298.35,216.79 300.33,216.79 302.32,216.79 304.30,216.80 306.28,216.80 308.27,216.80 310.25,216.80 312.23,216.80 314.22,216.80 316.20,216.81 318.18,216.81 320.17,216.81 322.15,216.81 324.13,216.81 326.12,216.82 328.10,216.82 330.08,216.82 332.07,216.82 334.05,216.82 336.03,216.83 338.02,216.83 340.00,216.83" fill="none" stroke="#111" stroke-width="2.2"/><polyline points="221.00,216.80 222.98,216.06 224.97,215.33 226.95,214.62 228.93,213.93 230.92,213.26 232.90,212.61 234.88,211.98 236.87,211.38 238.85,210.81 240.83,210.27 242.82,209.77 244.80,209.32 246.78,208.93 248.77,208.70 250.75,208.69 252.73,208.69 254.72,208.69 256.70,208.68 258.68,208.68 260.67,208.68 262.65,208.68 264.63,208.68 266.62,208.68 268.60,208.68 270.58,208.68 272.57,208.68 274.55,208.68 276.53,208.69 278.52,208.69 280.50,208.69 282.48,208.70 284.47,208.70 286.45,208.71 288.43,208.71 290.42,208.72 292.40,208.72 294.38,208.73 296.37,208.74 298.35,208.74 300.33,208.75 302.32,208.76 304.30,208.77 306.28,208.78 308.27,208.79 310.25,208.80 312.23,208.81 314.22,208.82 316.20,208.83 318.18,208.85 320.17,208.86 322.15,208.87 324.13,208.89 326.12,208.90 328.10,208.92 330.08,208.93 332.07,208.95 334.05,208.96 336.03,208.98 338.02,209.00 340.00,209.02" fill="none" stroke="#111" stroke-width="2.2"/><polyline points="221.00,227.90 222.98,227.91 224.97,227.92 226.95,227.92 228.93,227.93 230.92,227.94 232.90,227.95 234.88,227.95 236.87,227.96 238.85,227.96 240.83,227.97 242.82,227.97 244.80,227.98 246.78,227.98 248.77,227.99 250.75,227.99 252.73,227.99 254.72,227.99 256.70,228.00 258.68,228.00 260.67,228.00 262.65,228.00 264.63,228.00 266.62,228.00 268.60,228.00 270.58,228.00 272.57,228.00 274.55,227.99 276.53,227.99 278.52,227.99 280.50,227.99 282.48,227.98 284.47,227.98 286.45,227.98 288.43,227.97 290.42,227.97 292.40,227.96 294.38,227.96 296.37,227.95 298.35,227.94 300.33,227.94 302.32,227.93 304.30,227.92 306.28,227.91 308.27,227.91 310.25,227.90 312.23,227.89 314.22,227.88 316.20,227.87 318.18,227.86 320.17,227.85 322.15,227.83 324.13,227.82 326.12,227.81 328.10,227.80 330.08,227.78 332.07,227.77 334.05,227.76 336.03,227.74 338.02,227.73 340.00,227.71" fill="none" stroke="#111" stroke-width="2.2"/><polyline points="221.00,227.90 222.98,228.51 224.97,229.10 226.95,229.68 228.93,230.25 230.92,230.81 232.90,231.35 234.88,231.87 236.87,232.38 238.85,232.86 240.83,233.33 242.82,233.76 244.80,234.17 246.78,234.54 248.77,234.86 250.75,235.09 252.73,235.12 254.72,235.12 256.70,235.13 258.68,235.13 260.67,235.13 262.65,235.13 264.63,235.13 266.62,235.13 268.60,235.13 270.58,235.13 272.57,235.13 274.55,235.12 276.53,235.12 278.52,235.11 280.50,235.11 282.48,235.10 284.47,235.09 286.45,235.08 288.43,235.07 290.42,235.06 292.40,235.05 294.38,235.03 296.37,235.02 298.35,235.00 300.33,234.99 302.32,234.97 304.30,234.95 306.28,234.93 308.27,234.91 310.25,234.89 312.23,234.87 314.22,234.85 316.20,234.82 318.18,234.80 320.17,234.77 322.15,234.74 324.13,234.72 326.12,234.69 328.10,234.66 330.08,234.63 332.07,234.59 334.05,234.56 336.03,234.53 338.02,234.49 340.00,234.46" fill="none" stroke="#111" stroke-width="2.2"/><polyline points="221.00,237.90 222.98,237.92 224.97,237.94 226.95,237.96 228.93,237.98 230.92,237.99 232.90,238.01 234.88,238.02 236.87,238.04 238.85,238.05 240.83,238.06 242.82,238.07 244.80,238.08 246.78,238.09 248.77,238.10 250.75,238.11 252.73,238.12 254.72,238.12 256.70,238.13 258.68,238.13 260.67,238.13 262.65,238.13 264.63,238.13 266.62,238.13 268.60,238.13 270.58,238.13 272.57,238.13 274.55,238.12 276.53,238.12 278.52,238.11 280.50,238.11 282.48,238.10 284.47,238.09 286.45,238.08 288.43,238.07 290.42,238.06 292.40,238.05 294.38,238.03 296.37,238.02 298.35,238.00 300.33,237.99 302.32,237.97 304.30,237.95 306.28,237.93 308.27,237.91 310.25,237.89 312.23,237.87 314.22,237.85 316.20,237.82 318.18,237.80 320.17,237.77 322.15,237.74 324.13,237.72 326.12,237.69 328.10,237.66 330.08,237.63 332.07,237.59 334.05,237.56 336.03,237.53 338.02,237.49 340.00,237.46" fill="none" stroke="#111" stroke-width="2.2"/><polyline points="221.00,237.90 222.98,238.52 224.97,239.13 226.95,239.72 228.93,240.30 230.92,240.87 232.90,241.43 234.88,241.97 236.87,242.49 238.85,242.98 240.83,243.46 242.82,243.91 244.80,244.33 246.78,244.71 248.77,245.04 250.75,245.29 252.73,245.31 254.72,245.32 256.70,245.33 258.68,245.34 260.67,245.34 262.65,245.35 264.63,245.35 266.62,245.35 268.60,245.34 270.58,245.34 272.57,245.33 274.55,245.33 276.53,245.32 278.52,245.31 280.50,245.29 282.48,245.28 284.47,245.26 286.45,245.24 288.43,245.22 290.42,245.20 292.40,245.18 294.38,245.15 296.37,245.13 298.35,245.10 300.33,245.07 302.32,245.03 304.30,245.00 306.28,244.96 308.27,244.92 310.25,244.88 312.23,244.84 314.22,244.80 316.20,244.75 318.18,244.70 320.17,244.65 322.15,244.60 324.13,244.55 326.12,244.49 328.10,244.43 330.08,244.38 332.07,244.31 334.05,244.25 336.03,244.19 338.02,244.12 340.00,244.05" fill="none" stroke="#111" stroke-width="2.2"/><polyline points="221.00,247.90 222.98,247.94 224.97,247.98 226.95,248.01 228.93,248.05 230.92,248.08 232.90,248.11 234.88,248.14 236.87,248.16 238.85,248.19 240.83,248.21 242.82,248.23 244.80,248.25 246.78,248.27 248.77,248.29 250.75,248.30 252.73,248.31 254.72,248.32 256.70,248.33 258.68,248.34 260.67,248.34 262.65,248.35 264.63,248.35 266.62,248.35 268.60,248.34 270.58,248.34 272.57,248.33 274.55,248.33 276.53,248.32 278.52,248.31 280.50,248.29 282.48,248.28 284.47,248.26 286.45,248.24 288.43,248.22 290.42,248.20 292.40,248.18 294.38,248.15 296.37,248.13 298.35,248.10 300.33,248.07 302.32,248.03 304.30,248.00 306.28,247.96 308.27,247.92 310.25,247.88 312.23,247.84 314.22,247.80 316.20,247.75 318.18,247.70 320.17,247.65 322.15,247.60 324.13,247.55 326.12,247.49 328.10,247.43 330.08,247.38 332.07,247.31 334.05,247.25 336.03,247.19 338.02,247.12 340.00,247.05" fill="none" stroke="#111" stroke-width="2.2"/><polyline points="221.00,247.90 222.98,248.54 224.97,249.17 226.95,249.78 228.93,250.39 230.92,250.98 232.90,251.55 234.88,252.11 236.87,252.65 238.85,253.17 240.83,253.66 242.82,254.12 244.80,254.54 246.78,254.92 248.77,255.23 250.75,255.35 252.73,255.37 254.72,255.39 256.70,255.40 258.68,255.42 260.67,255.42 262.65,255.43 264.63,255.43 266.62,255.43 268.60,255.43 270.58,255.42 272.57,255.41 274.55,255.40 276.53,255.38 278.52,255.36 280.50,255.34 282.48,255.31 284.47,255.28 286.45,255.25 288.43,255.21 290.42,255.17 292.40,255.13 294.38,255.08 296.37,255.03 298.35,254.98 300.33,254.92 302.32,254.86 304.30,254.80 306.28,254.73 308.27,254.66 310.25,254.59 312.23,254.51 314.22,254.43 316.20,254.35 318.18,254.26 320.17,254.17 322.15,254.07 324.13,253.98 326.12,253.87 328.10,253.77 330.08,253.66 332.07,253.55 334.05,253.43 336.03,253.31 338.02,253.19 340.00,253.06" fill="none" stroke="#111" stroke-width="2.2"/><polyline points="221.00,257.50 222.98,257.57 224.97,257.64 226.95,257.71 228.93,257.77 230.92,257.83 232.90,257.88 234.88,257.93 236.87,257.98 238.85,258.03 240.83,258.07 242.82,258.11 244.80,258.14 246.78,258.17 248.77,258.20 250.75,258.23 252.73,258.25 254.72,258.27 256.70,258.28 258.68,258.30 260.67,258.30 262.65,258.31 264.63,258.31 266.62,258.31 268.60,258.31 270.58,258.30 272.57,258.29 274.55,258.28 276.53,258.26 278.52,258.24 280.50,258.22 282.48,258.19 284.47,258.16 286.45,258.13 288.43,258.09 290.42,258.05 292.40,258.01 294.38,257.96 296.37,257.91 298.35,257.86 300.33,257.80 302.32,257.74 304.30,257.68 306.28,257.61 308.27,257.54 310.25,257.47 312.23,257.39 314.22,257.31 316.20,257.23 318.18,257.14 320.17,257.05 322.15,256.95 324.13,256.86 326.12,256.75 328.10,256.65 330.08,256.54 332.07,256.43 334.05,256.31 336.03,256.19 338.02,256.07 340.00,255.94" fill="none" stroke="#111" stroke-width="2.2"/><polyline points="221.00,257.50 222.98,258.17 224.97,258.84 226.95,259.49 228.93,260.14 230.92,260.77 232.90,261.38 234.88,261.98 236.87,262.55 238.85,263.10 240.83,263.62 242.82,264.10 244.80,264.53 246.78,264.89 248.77,265.06 250.75,265.11 252.73,265.15 254.72,265.18 256.70,265.21 258.68,265.23 260.67,265.25 262.65,265.26 264.63,265.26 266.62,265.26 268.60,265.25 270.58,265.24 272.57,265.22 274.55,265.20 276.53,265.17 278.52,265.13 280.50,265.09 282.48,265.04 284.47,264.99 286.45,264.93 288.43,264.86 290.42,264.79 292.40,264.71 294.38,264.63 296.37,264.54 298.35,264.45 300.33,264.34 302.32,264.24 304.30,264.12 306.28,264.00 308.27,263.88 310.25,263.74 312.23,263.60 314.22,263.46 316.20,263.31 318.18,263.15 320.17,262.98 322.15,262.81 324.13,262.63 326.12,262.45 328.10,262.25 330.08,262.05 332.07,261.85 334.05,261.63 336.03,261.41 338.02,261.18 340.00,260.95" fill="none" stroke="#111" stroke-width="2.2"/><polyline points="221.00,266.50 222.98,266.63 224.97,266.75 226.95,266.87 228.93,266.98 230.92,267.09 232.90,267.19 234.88,267.28 236.87,267.37 238.85,267.45 240.83,267.52 242.82,267.59 244.80,267.65 246.78,267.71 248.77,267.76 250.75,267.81 252.73,267.85 254.72,267.88 256.70,267.91 258.68,267.93 260.67,267.95 262.65,267.96 264.63,267.96 266.62,267.96 268.60,267.95 270.58,267.94 272.57,267.92 274.55,267.90 276.53,267.87 278.52,267.83 280.50,267.79 282.48,267.74 284.47,267.69 286.45,267.63 288.43,267.56 290.42,267.49 292.40,267.41 294.38,267.33 296.37,267.24 298.35,267.15 300.33,267.04 302.32,266.94 304.30,266.82 306.28,266.70 308.27,266.58 310.25,266.44 312.23,266.30 314.22,266.16 316.20,266.01 318.18,265.85 320.17,265.68 322.15,265.51 324.13,265.33 326.12,265.15 328.10,264.95 330.08,264.75 332.07,264.55 334.05,264.33 336.03,264.11 338.02,263.88 340.00,263.65" fill="none" stroke="#111" stroke-width="2.2"/><polyline points="221.00,266.50 222.98,267.23 224.97,267.97 226.95,268.70 228.93,269.42 230.92,270.12 232.90,270.81 234.88,271.48 236.87,272.13 238.85,272.74 240.83,273.32 242.82,273.84 244.80,274.29 246.78,274.55 248.77,274.64 250.75,274.72 252.73,274.79 254.72,274.85 256.70,274.90 258.68,274.94 260.67,274.97 262.65,274.99 264.63,275.00 266.62,275.00 268.60,274.98 270.58,274.96 272.57,274.93 274.55,274.88 276.53,274.83 278.52,274.77 280.50,274.69 282.48,274.61 284.47,274.51 286.45,274.40 288.43,274.29 290.42,274.16 292.40,274.02 294.38,273.87 296.37,273.71 298.35,273.54 300.33,273.36 302.32,273.16 304.30,272.96 306.28,272.74 308.27,272.52 310.25,272.28 312.23,272.02 314.22,271.76 316.20,271.49 318.18,271.20 320.17,270.90 322.15,270.58 324.13,270.26 326.12,269.92 328.10,269.56 330.08,269.20 332.07,268.82 334.05,268.42 336.03,268.01 338.02,267.58 340.00,267.14" fill="none" stroke="#111" stroke-width="2.2"/><polyline points="221.00,274.90 222.98,275.13 224.97,275.36 226.95,275.57 228.93,275.77 230.92,275.96 232.90,276.13 234.88,276.30 236.87,276.46 238.85,276.60 240.83,276.73 242.82,276.86 244.80,276.97 246.78,277.07 248.77,277.16 250.75,277.24 252.73,277.31 254.72,277.37 256.70,277.42 258.68,277.46 260.67,277.49 262.65,277.51 264.63,277.52 266.62,277.52 268.60,277.50 270.58,277.48 272.57,277.45 274.55,277.40 276.53,277.35 278.52,277.29 280.50,277.21 282.48,277.13 284.47,277.03 286.45,276.92 288.43,276.81 290.42,276.68 292.40,276.54 294.38,276.39 296.37,276.23 298.35,276.06 300.33,275.88 302.32,275.68 304.30,275.48 306.28,275.26 308.27,275.04 310.25,274.80 312.23,274.54 314.22,274.28 316.20,274.01 318.18,273.72 320.17,273.42 322.15,273.10 324.13,272.78 326.12,272.44 328.10,272.08 330.08,271.72 332.07,271.34 334.05,270.94 336.03,270.53 338.02,270.10 340.00,269.66" fill="none" stroke="#111" stroke-width="2.2"/><polyline points="221.00,274.90 222.98,275.75 224.97,276.60 226.95,277.45 228.93,278.30 230.92,279.14 232.90,279.96 234.88,280.76 236.87,281.52 238.85,282.23 240.83,282.89 242.82,283.45 244.80,283.76 246.78,283.93 248.77,284.08 250.75,284.22 252.73,284.34 254.72,284.44 256.70,284.52 258.68,284.59 260.67,284.64 262.65,284.67 264.63,284.68 266.62,284.68 268.60,284.66 270.58,284.62 272.57,284.56 274.55,284.49 276.53,284.40 278.52,284.29 280.50,284.16 282.48,284.02 284.47,283.86 286.45,283.68 288.43,283.48 290.42,283.26 292.40,283.03 294.38,282.77 296.37,282.50 298.35,282.21 300.33,281.90 302.32,281.57 304.30,281.22 306.28,280.85 308.27,280.45 310.25,280.04 312.23,279.61 314.22,279.15 316.20,278.67 318.18,278.17 320.17,277.65 322.15,277.10 324.13,276.52 326.12,275.92 328.10,275.30 330.08,274.65 332.07,273.97 334.05,273.26 336.03,272.52 338.02,271.75 340.00,270.94" fill="none" stroke="#111" stroke-width="2.2"/><polyline points="221.00,282.50 222.98,282.90 224.97,283.29 226.95,283.65 228.93,283.99 230.92,284.31 232.90,284.62 234.88,284.90 236.87,285.16 238.85,285.41 240.83,285.64 242.82,285.85 244.80,286.04 246.78,286.21 248.77,286.36 250.75,286.50 252.73,286.62 254.72,286.72 256.70,286.80 258.68,286.87 260.67,286.92 262.65,286.95 264.63,286.96 266.62,286.96 268.60,286.94 270.58,286.90 272.57,286.84 274.55,286.77 276.53,286.68 278.52,286.57 280.50,286.44 282.48,286.30 284.47,286.14 286.45,285.96 288.43,285.76 290.42,285.54 292.40,285.31 294.38,285.05 296.37,284.78 298.35,284.49 300.33,284.18 302.32,283.85 304.30,283.50 306.28,283.13 308.27,282.73 310.25,282.32 312.23,281.89 314.22,281.43 316.20,280.95 318.18,280.45 320.17,279.93 322.15,279.38 324.13,278.80 326.12,278.20 328.10,277.58 330.08,276.93 332.07,276.25 334.05,275.54 336.03,274.80 338.02,274.03 340.00,273.22" fill="none" stroke="#111" stroke-width="2.2"/><polyline points="221.00,282.50 222.98,283.52 224.97,284.56 226.95,285.59 228.93,286.62 230.92,287.64 232.90,288.64 234.88,289.61 236.87,290.54 238.85,291.42 240.83,292.24 242.82,292.95 244.80,293.42 246.78,293.68 248.77,293.92 250.75,294.13 252.73,294.32 254.72,294.47 256.70,294.60 258.68,294.70 260.67,294.78 262.65,294.82 264.63,294.85 266.62,294.84 268.60,294.81 270.58,294.75 272.57,294.66 274.55,294.55 276.53,294.41 278.52,294.24 280.50,294.05 282.48,293.82 284.47,293.57 286.45,293.29 288.43,292.99 290.42,292.65 292.40,292.29 294.38,291.89 296.37,291.47 298.35,291.01 300.33,290.53 302.32,290.01 304.30,289.46 306.28,288.88 308.27,288.26 310.25,287.61 312.23,286.92 314.22,286.19 316.20,285.43 318.18,284.63 320.17,283.79 322.15,282.90 324.13,281.97 326.12,281.00 328.10,279.98 330.08,278.90 332.07,277.78 334.05,276.60 336.03,275.36 338.02,274.05 340.00,272.68" fill="none" stroke="#111" stroke-width="2.2"/><polyline points="221.00,290.20 222.98,290.84 224.97,291.44 226.95,292.01 228.93,292.55 230.92,293.05 232.90,293.52 234.88,293.96 236.87,294.38 238.85,294.76 240.83,295.11 242.82,295.43 244.80,295.73 246.78,295.99 248.77,296.23 250.75,296.44 252.73,296.63 254.72,296.78 256.70,296.91 258.68,297.01 260.67,297.09 262.65,297.13 264.63,297.16 266.62,297.15 268.60,297.12 270.58,297.06 272.57,296.97 274.55,296.86 276.53,296.72 278.52,296.55 280.50,296.36 282.48,296.13 284.47,295.88 286.45,295.60 288.43,295.30 290.42,294.96 292.40,294.60 294.38,294.20 296.37,293.78 298.35,293.32 300.33,292.84 302.32,292.32 304.30,291.77 306.28,291.19 308.27,290.57 310.25,289.92 312.23,289.23 314.22,288.50 316.20,287.74 318.18,286.94 320.17,286.10 322.15,285.21 324.13,284.28 326.12,283.31 328.10,282.29 330.08,281.21 332.07,280.09 334.05,278.91 336.03,277.67 338.02,276.36 340.00,274.99" fill="none" stroke="#111" stroke-width="2.2"/><polyline points="221.00,290.20 222.98,291.45 224.97,292.68 226.95,293.88 228.93,295.06 230.92,296.19 232.90,297.27 234.88,298.29 236.87,299.22 238.85,300.02 240.83,300.49 242.82,300.89 244.80,301.25 246.78,301.57 248.77,301.87 250.75,302.12 252.73,302.35 254.72,302.54 256.70,302.69 258.68,302.82 260.67,302.91 262.65,302.97 264.63,302.99 266.62,302.98 268.60,302.95 270.58,302.87 272.57,302.77 274.55,302.63 276.53,302.46 278.52,302.25 280.50,302.02 282.48,301.75 284.47,301.44 286.45,301.10 288.43,300.72 290.42,300.31 292.40,299.87 294.38,299.39 296.37,298.87 298.35,298.31 300.33,297.71 302.32,297.08 304.30,296.40 306.28,295.68 308.27,294.92 310.25,294.12 312.23,293.27 314.22,292.38 316.20,291.43 318.18,290.44 320.17,289.39 322.15,288.29 324.13,287.13 326.12,285.91 328.10,284.63 330.08,283.28 332.07,281.86 334.05,280.37 336.03,278.79 338.02,277.13 340.00,275.37" fill="none" stroke="#111" stroke-width="2.2"/><polyline points="221.00,296.30 222.98,297.08 224.97,297.83 226.95,298.53 228.93,299.18 230.92,299.80 232.90,300.38 234.88,300.92 236.87,301.43 238.85,301.89 240.83,302.32 242.82,302.72 244.80,303.08 246.78,303.40 248.77,303.70 250.75,303.95 252.73,304.18 254.72,304.37 256.70,304.52 258.68,304.65 260.67,304.74 262.65,304.80 264.63,304.82 266.62,304.81 268.60,304.78 270.58,304.70 272.57,304.60 274.55,304.46 276.53,304.29 278.52,304.08 280.50,303.85 282.48,303.58 284.47,303.27 286.45,302.93 288.43,302.55 290.42,302.14 292.40,301.70 294.38,301.22 296.37,300.70 298.35,300.14 300.33,299.54 302.32,298.91 304.30,298.23 306.28,297.51 308.27,296.75 310.25,295.95 312.23,295.10 314.22,294.21 316.20,293.26 318.18,292.27 320.17,291.22 322.15,290.12 324.13,288.96 326.12,287.74 328.10,286.46 330.08,285.11 332.07,283.69 334.05,282.20 336.03,280.62 338.02,278.96 340.00,277.20" fill="none" stroke="#111" stroke-width="2.2"/><polyline points="221.00,296.30 222.98,297.69 224.97,299.03 226.95,300.33 228.93,301.58 230.92,302.76 232.90,303.89 234.88,304.94 236.87,305.90 238.85,306.72 240.83,307.24 242.82,307.68 244.80,308.07 246.78,308.43 248.77,308.76 250.75,309.04 252.73,309.29 254.72,309.50 256.70,309.67 258.68,309.81 260.67,309.91 262.65,309.97 264.63,310.00 266.62,309.99 268.60,309.95 270.58,309.87 272.57,309.75 274.55,309.60 276.53,309.41 278.52,309.19 280.50,308.92 282.48,308.62 284.47,308.28 286.45,307.91 288.43,307.49 290.42,307.04 292.40,306.55 294.38,306.01 296.37,305.44 298.35,304.82 300.33,304.16 302.32,303.46 304.30,302.71 306.28,301.91 308.27,301.07 310.25,300.18 312.23,299.24 314.22,298.25 316.20,297.20 318.18,296.10 320.17,294.94 322.15,293.71 324.13,292.43 326.12,291.07 328.10,289.65 330.08,288.15 332.07,286.56 334.05,284.90 336.03,283.14 338.02,281.28 340.00,279.31" fill="none" stroke="#111" stroke-width="2.2"/><polyline points="221.00,302.40 222.98,303.27 224.97,304.09 226.95,304.87 228.93,305.59 230.92,306.28 232.90,306.92 234.88,307.52 236.87,308.08 238.85,308.59 240.83,309.07 242.82,309.51 244.80,309.90 246.78,310.26 248.77,310.59 250.75,310.87 252.73,311.12 254.72,311.33 256.70,311.50 258.68,311.64 260.67,311.74 262.65,311.80 264.63,311.83 266.62,311.82 268.60,311.78 270.58,311.70 272.57,311.58 274.55,311.43 276.53,311.24 278.52,311.02 280.50,310.75 282.48,310.45 284.47,310.11 286.45,309.74 288.43,309.32 290.42,308.87 292.40,308.38 294.38,307.84 296.37,307.27 298.35,306.65 300.33,305.99 302.32,305.29 304.30,304.54 306.28,303.74 308.27,302.90 310.25,302.01 312.23,301.07 314.22,300.08 316.20,299.03 318.18,297.93 320.17,296.77 322.15,295.54 324.13,294.26 326.12,292.90 328.10,291.48 330.08,289.98 332.07,288.39 334.05,286.73 336.03,284.97 338.02,283.11 340.00,281.14" fill="none" stroke="#111" stroke-width="2.2"/><polyline points="221.00,302.40 222.98,303.87 224.97,305.27 226.95,306.61 228.93,307.87 230.92,309.05 232.90,310.13 234.88,311.02 236.87,311.61 238.85,312.15 240.83,312.66 242.82,313.12 244.80,313.54 246.78,313.92 248.77,314.26 250.75,314.56 252.73,314.82 254.72,315.04 256.70,315.22 258.68,315.37 260.67,315.47 262.65,315.54 264.63,315.57 266.62,315.56 268.60,315.51 270.58,315.43 272.57,315.31 274.55,315.15 276.53,314.95 278.52,314.71 280.50,314.43 282.48,314.12 284.47,313.76 286.45,313.36 288.43,312.92 290.42,312.45 292.40,311.93 294.38,311.36 296.37,310.76 298.35,310.10 300.33,309.41 302.32,308.67 304.30,307.88 306.28,307.04 308.27,306.15 310.25,305.21 312.23,304.22 314.22,303.17 316.20,302.07 318.18,300.90 320.17,299.68 322.15,298.39 324.13,297.03 326.12,295.60 328.10,294.09 330.08,292.51 332.07,290.84 334.05,289.08 336.03,287.23 338.02,285.26 340.00,283.19" fill="none" stroke="#111" stroke-width="2.2"/><polyline points="221.00,307.00 222.98,307.92 224.97,308.78 226.95,309.60 228.93,310.37 230.92,311.09 232.90,311.77 234.88,312.40 236.87,312.99 238.85,313.53 240.83,314.04 242.82,314.50 244.80,314.92 246.78,315.30 248.77,315.64 250.75,315.94 252.73,316.20 254.72,316.42 256.70,316.60 258.68,316.75 260.67,316.85 262.65,316.92 264.63,316.95 266.62,316.94 268.60,316.89 270.58,316.81 272.57,316.69 274.55,316.53 276.53,316.33 278.52,316.09 280.50,315.81 282.48,315.50 284.47,315.14 286.45,314.74 288.43,314.30 290.42,313.83 292.40,313.31 294.38,312.74 296.37,312.14 298.35,311.48 300.33,310.79 302.32,310.05 304.30,309.26 306.28,308.42 308.27,307.53 310.25,306.59 312.23,305.60 314.22,304.55 316.20,303.45 318.18,302.28 320.17,301.06 322.15,299.77 324.13,298.41 326.12,296.98 328.10,295.47 330.08,293.89 332.07,292.22 334.05,290.46 336.03,288.61 338.02,286.64 340.00,284.57" fill="none" stroke="#111" stroke-width="2.2"/><polyline points="221.00,307.00 222.98,308.51 224.97,309.95 226.95,311.32 228.93,312.60 230.92,313.77 232.90,314.78 234.88,315.44 236.87,316.06 238.85,316.63 240.83,317.15 242.82,317.64 244.80,318.08 246.78,318.47 248.77,318.83 250.75,319.14 252.73,319.41 254.72,319.64 256.70,319.83 258.68,319.99 260.67,320.10 262.65,320.17 264.63,320.20 266.62,320.19 268.60,320.14 270.58,320.05 272.57,319.93 274.55,319.76 276.53,319.55 278.52,319.30 280.50,319.01 282.48,318.68 284.47,318.31 286.45,317.89 288.43,317.43 290.42,316.93 292.40,316.39 294.38,315.80 296.37,315.17 298.35,314.49 300.33,313.76 302.32,312.98 304.30,312.16 306.28,311.28 308.27,310.35 310.25,309.37 312.23,308.33 314.22,307.24 316.20,306.09 318.18,304.87 320.17,303.59 322.15,302.24 324.13,300.82 326.12,299.33 328.10,297.75 330.08,296.10 332.07,294.35 334.05,292.52 336.03,290.57 338.02,288.52 340.00,286.35" fill="none" stroke="#111" stroke-width="2.2"/></g>
<polyline points="293.50,152.80 292.31,160.30 288.35,164.50 290.46,168.70 286.58,173.25 288.79,177.80 285.07,182.40 287.44,187.00 283.82,192.35 286.32,197.70 282.96,202.65 285.71,207.60 282.56,212.20 285.50,216.80 282.55,222.35 285.72,227.90 282.99,232.90 286.36,237.90 283.83,242.90 287.41,247.90 285.06,252.70 288.80,257.50 286.59,262.00 290.46,266.50 288.35,270.70 292.31,274.90 290.25,278.70 292.00,280.00" fill="none" stroke="#111" stroke-width="2"/>
<clipPath id="ht"><polygon points="321.00,128.14 322.54,129.11 324.07,130.11 325.61,131.15 327.14,132.24 328.68,133.36 330.21,134.53 331.75,135.74 333.28,137.00 334.82,138.30 336.36,139.66 337.89,141.08 339.43,142.55 340.96,144.08 342.50,145.68 344.03,147.34 345.57,149.08 347.11,150.90 348.64,152.80 350.18,154.80 351.71,156.90 353.25,159.12 354.78,161.46 356.32,163.95 357.85,166.60 377.70,166.60 380.50,171.30 380.50,183.90 312.00,183.90 312.30,161.70 303.40,152.80 296.00,152.80 313.20,132.60"/></clipPath>
<polygon points="321.00,128.14 322.54,129.11 324.07,130.11 325.61,131.15 327.14,132.24 328.68,133.36 330.21,134.53 331.75,135.74 333.28,137.00 334.82,138.30 336.36,139.66 337.89,141.08 339.43,142.55 340.96,144.08 342.50,145.68 344.03,147.34 345.57,149.08 347.11,150.90 348.64,152.80 350.18,154.80 351.71,156.90 353.25,159.12 354.78,161.46 356.32,163.95 357.85,166.60 377.70,166.60 380.50,171.30 380.50,183.90 312.00,183.90 312.30,161.70 303.40,152.80 296.00,152.80 313.20,132.60" fill="#d9d9d9"/>
<g clip-path="url(#ht)"><line x1="-224.0" y1="300" x2="-24.0" y2="100" stroke="#111" stroke-width="2"/><line x1="-213.39999999999998" y1="300" x2="-13.399999999999977" y2="100" stroke="#111" stroke-width="2"/><line x1="-202.8" y1="300" x2="-2.8000000000000114" y2="100" stroke="#111" stroke-width="2"/><line x1="-192.2" y1="300" x2="7.800000000000011" y2="100" stroke="#111" stroke-width="2"/><line x1="-181.59999999999997" y1="300" x2="18.400000000000034" y2="100" stroke="#111" stroke-width="2"/><line x1="-171.0" y1="300" x2="29.0" y2="100" stroke="#111" stroke-width="2"/><line x1="-160.39999999999998" y1="300" x2="39.60000000000002" y2="100" stroke="#111" stroke-width="2"/><line x1="-149.8" y1="300" x2="50.19999999999999" y2="100" stroke="#111" stroke-width="2"/><line x1="-139.2" y1="300" x2="60.80000000000001" y2="100" stroke="#111" stroke-width="2"/><line x1="-128.59999999999997" y1="300" x2="71.40000000000003" y2="100" stroke="#111" stroke-width="2"/><line x1="-118.0" y1="300" x2="82.0" y2="100" stroke="#111" stroke-width="2"/><line x1="-107.39999999999998" y1="300" x2="92.60000000000002" y2="100" stroke="#111" stroke-width="2"/><line x1="-96.80000000000001" y1="300" x2="103.19999999999999" y2="100" stroke="#111" stroke-width="2"/><line x1="-86.19999999999999" y1="300" x2="113.80000000000001" y2="100" stroke="#111" stroke-width="2"/><line x1="-75.59999999999997" y1="300" x2="124.40000000000003" y2="100" stroke="#111" stroke-width="2"/><line x1="-65.0" y1="300" x2="135.0" y2="100" stroke="#111" stroke-width="2"/><line x1="-54.39999999999998" y1="300" x2="145.60000000000002" y2="100" stroke="#111" stroke-width="2"/><line x1="-43.79999999999998" y1="300" x2="156.20000000000002" y2="100" stroke="#111" stroke-width="2"/><line x1="-33.19999999999999" y1="300" x2="166.8" y2="100" stroke="#111" stroke-width="2"/><line x1="-22.599999999999994" y1="300" x2="177.4" y2="100" stroke="#111" stroke-width="2"/><line x1="-12.0" y1="300" x2="188.0" y2="100" stroke="#111" stroke-width="2"/><line x1="-1.4000000000000057" y1="300" x2="198.6" y2="100" stroke="#111" stroke-width="2"/><line x1="9.200000000000017" y1="300" x2="209.20000000000002" y2="100" stroke="#111" stroke-width="2"/><line x1="19.80000000000001" y1="300" x2="219.8" y2="100" stroke="#111" stroke-width="2"/><line x1="30.400000000000006" y1="300" x2="230.4" y2="100" stroke="#111" stroke-width="2"/><line x1="41.0" y1="300" x2="241.0" y2="100" stroke="#111" stroke-width="2"/><line x1="51.599999999999994" y1="300" x2="251.6" y2="100" stroke="#111" stroke-width="2"/><line x1="62.20000000000002" y1="300" x2="262.20000000000005" y2="100" stroke="#111" stroke-width="2"/><line x1="72.80000000000001" y1="300" x2="272.8" y2="100" stroke="#111" stroke-width="2"/><line x1="83.4" y1="300" x2="283.4" y2="100" stroke="#111" stroke-width="2"/><line x1="94.0" y1="300" x2="294.0" y2="100" stroke="#111" stroke-width="2"/><line x1="104.60000000000001" y1="300" x2="304.6" y2="100" stroke="#111" stroke-width="2"/><line x1="115.2" y1="300" x2="315.2" y2="100" stroke="#111" stroke-width="2"/><line x1="125.8" y1="300" x2="325.8" y2="100" stroke="#111" stroke-width="2"/><line x1="136.4" y1="300" x2="336.4" y2="100" stroke="#111" stroke-width="2"/><line x1="147.0" y1="300" x2="347.0" y2="100" stroke="#111" stroke-width="2"/><line x1="157.6" y1="300" x2="357.6" y2="100" stroke="#111" stroke-width="2"/><line x1="168.2" y1="300" x2="368.2" y2="100" stroke="#111" stroke-width="2"/><line x1="178.8" y1="300" x2="378.8" y2="100" stroke="#111" stroke-width="2"/><line x1="189.4" y1="300" x2="389.4" y2="100" stroke="#111" stroke-width="2"/><line x1="200.0" y1="300" x2="400.0" y2="100" stroke="#111" stroke-width="2"/><line x1="210.6" y1="300" x2="410.6" y2="100" stroke="#111" stroke-width="2"/><line x1="221.2" y1="300" x2="421.2" y2="100" stroke="#111" stroke-width="2"/><line x1="231.8" y1="300" x2="431.8" y2="100" stroke="#111" stroke-width="2"/><line x1="242.4" y1="300" x2="442.4" y2="100" stroke="#111" stroke-width="2"/><line x1="253.0" y1="300" x2="453.0" y2="100" stroke="#111" stroke-width="2"/><line x1="263.6" y1="300" x2="463.6" y2="100" stroke="#111" stroke-width="2"/><line x1="274.2" y1="300" x2="474.2" y2="100" stroke="#111" stroke-width="2"/><line x1="284.8" y1="300" x2="484.8" y2="100" stroke="#111" stroke-width="2"/><line x1="295.4" y1="300" x2="495.4" y2="100" stroke="#111" stroke-width="2"/><line x1="306.0" y1="300" x2="506.0" y2="100" stroke="#111" stroke-width="2"/><line x1="316.6" y1="300" x2="516.6" y2="100" stroke="#111" stroke-width="2"/><line x1="327.2" y1="300" x2="527.2" y2="100" stroke="#111" stroke-width="2"/><line x1="337.79999999999995" y1="300" x2="537.8" y2="100" stroke="#111" stroke-width="2"/><line x1="348.4" y1="300" x2="548.4" y2="100" stroke="#111" stroke-width="2"/><line x1="359.0" y1="300" x2="559.0" y2="100" stroke="#111" stroke-width="2"/><line x1="369.6" y1="300" x2="569.6" y2="100" stroke="#111" stroke-width="2"/><line x1="380.2" y1="300" x2="580.2" y2="100" stroke="#111" stroke-width="2"/><line x1="390.79999999999995" y1="300" x2="590.8" y2="100" stroke="#111" stroke-width="2"/><line x1="401.4" y1="300" x2="601.4" y2="100" stroke="#111" stroke-width="2"/><line x1="412.0" y1="300" x2="612.0" y2="100" stroke="#111" stroke-width="2"/><line x1="422.6" y1="300" x2="622.6" y2="100" stroke="#111" stroke-width="2"/><line x1="433.2" y1="300" x2="633.2" y2="100" stroke="#111" stroke-width="2"/><line x1="443.79999999999995" y1="300" x2="643.8" y2="100" stroke="#111" stroke-width="2"/><line x1="454.4" y1="300" x2="654.4" y2="100" stroke="#111" stroke-width="2"/><line x1="465.0" y1="300" x2="665.0" y2="100" stroke="#111" stroke-width="2"/><line x1="475.59999999999997" y1="300" x2="675.5999999999999" y2="100" stroke="#111" stroke-width="2"/><line x1="486.2" y1="300" x2="686.2" y2="100" stroke="#111" stroke-width="2"/><line x1="496.8" y1="300" x2="696.8" y2="100" stroke="#111" stroke-width="2"/><line x1="507.4" y1="300" x2="707.4" y2="100" stroke="#111" stroke-width="2"/><line x1="518.0" y1="300" x2="718.0" y2="100" stroke="#111" stroke-width="2"/><line x1="528.5999999999999" y1="300" x2="728.5999999999999" y2="100" stroke="#111" stroke-width="2"/><line x1="539.2" y1="300" x2="739.2" y2="100" stroke="#111" stroke-width="2"/><line x1="549.8" y1="300" x2="749.8" y2="100" stroke="#111" stroke-width="2"/><line x1="560.4" y1="300" x2="760.4" y2="100" stroke="#111" stroke-width="2"/><line x1="571.0" y1="300" x2="771.0" y2="100" stroke="#111" stroke-width="2"/><line x1="581.5999999999999" y1="300" x2="781.5999999999999" y2="100" stroke="#111" stroke-width="2"/><line x1="592.2" y1="300" x2="792.2" y2="100" stroke="#111" stroke-width="2"/><line x1="602.8" y1="300" x2="802.8" y2="100" stroke="#111" stroke-width="2"/><line x1="613.4" y1="300" x2="813.4" y2="100" stroke="#111" stroke-width="2"/><line x1="624.0" y1="300" x2="824.0" y2="100" stroke="#111" stroke-width="2"/><line x1="634.5999999999999" y1="300" x2="834.5999999999999" y2="100" stroke="#111" stroke-width="2"/><line x1="645.2" y1="300" x2="845.2" y2="100" stroke="#111" stroke-width="2"/><line x1="655.8" y1="300" x2="855.8" y2="100" stroke="#111" stroke-width="2"/><line x1="666.4" y1="300" x2="866.4" y2="100" stroke="#111" stroke-width="2"/><line x1="677.0" y1="300" x2="877.0" y2="100" stroke="#111" stroke-width="2"/><line x1="687.5999999999999" y1="300" x2="887.5999999999999" y2="100" stroke="#111" stroke-width="2"/><line x1="698.2" y1="300" x2="898.2" y2="100" stroke="#111" stroke-width="2"/><line x1="708.8" y1="300" x2="908.8" y2="100" stroke="#111" stroke-width="2"/><line x1="719.4" y1="300" x2="919.4" y2="100" stroke="#111" stroke-width="2"/><line x1="730.0" y1="300" x2="930.0" y2="100" stroke="#111" stroke-width="2"/><line x1="740.6" y1="300" x2="940.6" y2="100" stroke="#111" stroke-width="2"/><line x1="751.1999999999999" y1="300" x2="951.1999999999999" y2="100" stroke="#111" stroke-width="2"/><line x1="761.8" y1="300" x2="961.8" y2="100" stroke="#111" stroke-width="2"/><line x1="772.4" y1="300" x2="972.4" y2="100" stroke="#111" stroke-width="2"/><line x1="783.0" y1="300" x2="983.0" y2="100" stroke="#111" stroke-width="2"/><line x1="793.6" y1="300" x2="993.6" y2="100" stroke="#111" stroke-width="2"/><line x1="804.1999999999999" y1="300" x2="1004.1999999999999" y2="100" stroke="#111" stroke-width="2"/><line x1="814.8" y1="300" x2="1014.8" y2="100" stroke="#111" stroke-width="2"/><line x1="825.4" y1="300" x2="1025.4" y2="100" stroke="#111" stroke-width="2"/></g>
<polygon points="321.00,128.14 322.54,129.11 324.07,130.11 325.61,131.15 327.14,132.24 328.68,133.36 330.21,134.53 331.75,135.74 333.28,137.00 334.82,138.30 336.36,139.66 337.89,141.08 339.43,142.55 340.96,144.08 342.50,145.68 344.03,147.34 345.57,149.08 347.11,150.90 348.64,152.80 350.18,154.80 351.71,156.90 353.25,159.12 354.78,161.46 356.32,163.95 357.85,166.60 377.70,166.60 380.50,171.30 380.50,183.90 312.00,183.90 312.30,161.70 303.40,152.80 296.00,152.80 313.20,132.60" fill="none" stroke="#111" stroke-width="3.0" stroke-linejoin="round"/>
<clipPath id="hb"><polygon points="332.00,301.06 333.12,300.14 334.24,299.20 335.35,298.23 336.47,297.23 337.59,296.20 338.71,295.15 339.83,294.06 340.95,292.94 342.06,291.78 343.18,290.59 344.30,289.36 345.42,288.09 346.54,286.78 347.66,285.43 348.77,284.03 349.89,282.57 351.01,281.07 352.13,279.51 353.25,277.88 354.37,276.19 355.48,274.42 356.60,272.57 357.72,270.64 358.84,268.60 377.70,268.60 380.50,263.90 380.50,251.60 312.30,251.60 312.30,273.30 303.40,281.80 296.00,281.80 303.50,291.00 315.50,296.00 320.50,300.30 332.00,301.06"/></clipPath>
<polygon points="332.00,301.06 333.12,300.14 334.24,299.20 335.35,298.23 336.47,297.23 337.59,296.20 338.71,295.15 339.83,294.06 340.95,292.94 342.06,291.78 343.18,290.59 344.30,289.36 345.42,288.09 346.54,286.78 347.66,285.43 348.77,284.03 349.89,282.57 351.01,281.07 352.13,279.51 353.25,277.88 354.37,276.19 355.48,274.42 356.60,272.57 357.72,270.64 358.84,268.60 377.70,268.60 380.50,263.90 380.50,251.60 312.30,251.60 312.30,273.30 303.40,281.80 296.00,281.80 303.50,291.00 315.50,296.00 320.50,300.30 332.00,301.06" fill="#d9d9d9"/>
<g clip-path="url(#hb)"><line x1="-224.0" y1="300" x2="-24.0" y2="100" stroke="#111" stroke-width="2"/><line x1="-213.39999999999998" y1="300" x2="-13.399999999999977" y2="100" stroke="#111" stroke-width="2"/><line x1="-202.8" y1="300" x2="-2.8000000000000114" y2="100" stroke="#111" stroke-width="2"/><line x1="-192.2" y1="300" x2="7.800000000000011" y2="100" stroke="#111" stroke-width="2"/><line x1="-181.59999999999997" y1="300" x2="18.400000000000034" y2="100" stroke="#111" stroke-width="2"/><line x1="-171.0" y1="300" x2="29.0" y2="100" stroke="#111" stroke-width="2"/><line x1="-160.39999999999998" y1="300" x2="39.60000000000002" y2="100" stroke="#111" stroke-width="2"/><line x1="-149.8" y1="300" x2="50.19999999999999" y2="100" stroke="#111" stroke-width="2"/><line x1="-139.2" y1="300" x2="60.80000000000001" y2="100" stroke="#111" stroke-width="2"/><line x1="-128.59999999999997" y1="300" x2="71.40000000000003" y2="100" stroke="#111" stroke-width="2"/><line x1="-118.0" y1="300" x2="82.0" y2="100" stroke="#111" stroke-width="2"/><line x1="-107.39999999999998" y1="300" x2="92.60000000000002" y2="100" stroke="#111" stroke-width="2"/><line x1="-96.80000000000001" y1="300" x2="103.19999999999999" y2="100" stroke="#111" stroke-width="2"/><line x1="-86.19999999999999" y1="300" x2="113.80000000000001" y2="100" stroke="#111" stroke-width="2"/><line x1="-75.59999999999997" y1="300" x2="124.40000000000003" y2="100" stroke="#111" stroke-width="2"/><line x1="-65.0" y1="300" x2="135.0" y2="100" stroke="#111" stroke-width="2"/><line x1="-54.39999999999998" y1="300" x2="145.60000000000002" y2="100" stroke="#111" stroke-width="2"/><line x1="-43.79999999999998" y1="300" x2="156.20000000000002" y2="100" stroke="#111" stroke-width="2"/><line x1="-33.19999999999999" y1="300" x2="166.8" y2="100" stroke="#111" stroke-width="2"/><line x1="-22.599999999999994" y1="300" x2="177.4" y2="100" stroke="#111" stroke-width="2"/><line x1="-12.0" y1="300" x2="188.0" y2="100" stroke="#111" stroke-width="2"/><line x1="-1.4000000000000057" y1="300" x2="198.6" y2="100" stroke="#111" stroke-width="2"/><line x1="9.200000000000017" y1="300" x2="209.20000000000002" y2="100" stroke="#111" stroke-width="2"/><line x1="19.80000000000001" y1="300" x2="219.8" y2="100" stroke="#111" stroke-width="2"/><line x1="30.400000000000006" y1="300" x2="230.4" y2="100" stroke="#111" stroke-width="2"/><line x1="41.0" y1="300" x2="241.0" y2="100" stroke="#111" stroke-width="2"/><line x1="51.599999999999994" y1="300" x2="251.6" y2="100" stroke="#111" stroke-width="2"/><line x1="62.20000000000002" y1="300" x2="262.20000000000005" y2="100" stroke="#111" stroke-width="2"/><line x1="72.80000000000001" y1="300" x2="272.8" y2="100" stroke="#111" stroke-width="2"/><line x1="83.4" y1="300" x2="283.4" y2="100" stroke="#111" stroke-width="2"/><line x1="94.0" y1="300" x2="294.0" y2="100" stroke="#111" stroke-width="2"/><line x1="104.60000000000001" y1="300" x2="304.6" y2="100" stroke="#111" stroke-width="2"/><line x1="115.2" y1="300" x2="315.2" y2="100" stroke="#111" stroke-width="2"/><line x1="125.8" y1="300" x2="325.8" y2="100" stroke="#111" stroke-width="2"/><line x1="136.4" y1="300" x2="336.4" y2="100" stroke="#111" stroke-width="2"/><line x1="147.0" y1="300" x2="347.0" y2="100" stroke="#111" stroke-width="2"/><line x1="157.6" y1="300" x2="357.6" y2="100" stroke="#111" stroke-width="2"/><line x1="168.2" y1="300" x2="368.2" y2="100" stroke="#111" stroke-width="2"/><line x1="178.8" y1="300" x2="378.8" y2="100" stroke="#111" stroke-width="2"/><line x1="189.4" y1="300" x2="389.4" y2="100" stroke="#111" stroke-width="2"/><line x1="200.0" y1="300" x2="400.0" y2="100" stroke="#111" stroke-width="2"/><line x1="210.6" y1="300" x2="410.6" y2="100" stroke="#111" stroke-width="2"/><line x1="221.2" y1="300" x2="421.2" y2="100" stroke="#111" stroke-width="2"/><line x1="231.8" y1="300" x2="431.8" y2="100" stroke="#111" stroke-width="2"/><line x1="242.4" y1="300" x2="442.4" y2="100" stroke="#111" stroke-width="2"/><line x1="253.0" y1="300" x2="453.0" y2="100" stroke="#111" stroke-width="2"/><line x1="263.6" y1="300" x2="463.6" y2="100" stroke="#111" stroke-width="2"/><line x1="274.2" y1="300" x2="474.2" y2="100" stroke="#111" stroke-width="2"/><line x1="284.8" y1="300" x2="484.8" y2="100" stroke="#111" stroke-width="2"/><line x1="295.4" y1="300" x2="495.4" y2="100" stroke="#111" stroke-width="2"/><line x1="306.0" y1="300" x2="506.0" y2="100" stroke="#111" stroke-width="2"/><line x1="316.6" y1="300" x2="516.6" y2="100" stroke="#111" stroke-width="2"/><line x1="327.2" y1="300" x2="527.2" y2="100" stroke="#111" stroke-width="2"/><line x1="337.79999999999995" y1="300" x2="537.8" y2="100" stroke="#111" stroke-width="2"/><line x1="348.4" y1="300" x2="548.4" y2="100" stroke="#111" stroke-width="2"/><line x1="359.0" y1="300" x2="559.0" y2="100" stroke="#111" stroke-width="2"/><line x1="369.6" y1="300" x2="569.6" y2="100" stroke="#111" stroke-width="2"/><line x1="380.2" y1="300" x2="580.2" y2="100" stroke="#111" stroke-width="2"/><line x1="390.79999999999995" y1="300" x2="590.8" y2="100" stroke="#111" stroke-width="2"/><line x1="401.4" y1="300" x2="601.4" y2="100" stroke="#111" stroke-width="2"/><line x1="412.0" y1="300" x2="612.0" y2="100" stroke="#111" stroke-width="2"/><line x1="422.6" y1="300" x2="622.6" y2="100" stroke="#111" stroke-width="2"/><line x1="433.2" y1="300" x2="633.2" y2="100" stroke="#111" stroke-width="2"/><line x1="443.79999999999995" y1="300" x2="643.8" y2="100" stroke="#111" stroke-width="2"/><line x1="454.4" y1="300" x2="654.4" y2="100" stroke="#111" stroke-width="2"/><line x1="465.0" y1="300" x2="665.0" y2="100" stroke="#111" stroke-width="2"/><line x1="475.59999999999997" y1="300" x2="675.5999999999999" y2="100" stroke="#111" stroke-width="2"/><line x1="486.2" y1="300" x2="686.2" y2="100" stroke="#111" stroke-width="2"/><line x1="496.8" y1="300" x2="696.8" y2="100" stroke="#111" stroke-width="2"/><line x1="507.4" y1="300" x2="707.4" y2="100" stroke="#111" stroke-width="2"/><line x1="518.0" y1="300" x2="718.0" y2="100" stroke="#111" stroke-width="2"/><line x1="528.5999999999999" y1="300" x2="728.5999999999999" y2="100" stroke="#111" stroke-width="2"/><line x1="539.2" y1="300" x2="739.2" y2="100" stroke="#111" stroke-width="2"/><line x1="549.8" y1="300" x2="749.8" y2="100" stroke="#111" stroke-width="2"/><line x1="560.4" y1="300" x2="760.4" y2="100" stroke="#111" stroke-width="2"/><line x1="571.0" y1="300" x2="771.0" y2="100" stroke="#111" stroke-width="2"/><line x1="581.5999999999999" y1="300" x2="781.5999999999999" y2="100" stroke="#111" stroke-width="2"/><line x1="592.2" y1="300" x2="792.2" y2="100" stroke="#111" stroke-width="2"/><line x1="602.8" y1="300" x2="802.8" y2="100" stroke="#111" stroke-width="2"/><line x1="613.4" y1="300" x2="813.4" y2="100" stroke="#111" stroke-width="2"/><line x1="624.0" y1="300" x2="824.0" y2="100" stroke="#111" stroke-width="2"/><line x1="634.5999999999999" y1="300" x2="834.5999999999999" y2="100" stroke="#111" stroke-width="2"/><line x1="645.2" y1="300" x2="845.2" y2="100" stroke="#111" stroke-width="2"/><line x1="655.8" y1="300" x2="855.8" y2="100" stroke="#111" stroke-width="2"/><line x1="666.4" y1="300" x2="866.4" y2="100" stroke="#111" stroke-width="2"/><line x1="677.0" y1="300" x2="877.0" y2="100" stroke="#111" stroke-width="2"/><line x1="687.5999999999999" y1="300" x2="887.5999999999999" y2="100" stroke="#111" stroke-width="2"/><line x1="698.2" y1="300" x2="898.2" y2="100" stroke="#111" stroke-width="2"/><line x1="708.8" y1="300" x2="908.8" y2="100" stroke="#111" stroke-width="2"/><line x1="719.4" y1="300" x2="919.4" y2="100" stroke="#111" stroke-width="2"/><line x1="730.0" y1="300" x2="930.0" y2="100" stroke="#111" stroke-width="2"/><line x1="740.6" y1="300" x2="940.6" y2="100" stroke="#111" stroke-width="2"/><line x1="751.1999999999999" y1="300" x2="951.1999999999999" y2="100" stroke="#111" stroke-width="2"/><line x1="761.8" y1="300" x2="961.8" y2="100" stroke="#111" stroke-width="2"/><line x1="772.4" y1="300" x2="972.4" y2="100" stroke="#111" stroke-width="2"/><line x1="783.0" y1="300" x2="983.0" y2="100" stroke="#111" stroke-width="2"/><line x1="793.6" y1="300" x2="993.6" y2="100" stroke="#111" stroke-width="2"/><line x1="804.1999999999999" y1="300" x2="1004.1999999999999" y2="100" stroke="#111" stroke-width="2"/><line x1="814.8" y1="300" x2="1014.8" y2="100" stroke="#111" stroke-width="2"/><line x1="825.4" y1="300" x2="1025.4" y2="100" stroke="#111" stroke-width="2"/></g>
<polygon points="332.00,301.06 333.12,300.14 334.24,299.20 335.35,298.23 336.47,297.23 337.59,296.20 338.71,295.15 339.83,294.06 340.95,292.94 342.06,291.78 343.18,290.59 344.30,289.36 345.42,288.09 346.54,286.78 347.66,285.43 348.77,284.03 349.89,282.57 351.01,281.07 352.13,279.51 353.25,277.88 354.37,276.19 355.48,274.42 356.60,272.57 357.72,270.64 358.84,268.60 377.70,268.60 380.50,263.90 380.50,251.60 312.30,251.60 312.30,273.30 303.40,281.80 296.00,281.80 303.50,291.00 315.50,296.00 320.50,300.30 332.00,301.06" fill="none" stroke="#111" stroke-width="3.0" stroke-linejoin="round"/>
<path d="M163.5,155.90 Q163.5,151.90 167.5,151.90 L182.48,151.90 A106.2,106.2 0 0 1 357.85,166.60 L377.7,166.60 Q380.5,167.10 380.5,171.30 L380.5,263.90 Q380.5,268.10 377.7,268.60 L358.84,268.60 A106.2,106.2 0 0 1 181.14,283.40 L167.5,283.40 Q163.5,283.40 163.5,279.40 Z" fill="none" stroke="#111" stroke-width="3.0" stroke-linejoin="round"/>
<line x1="182.2" y1="151.9" x2="182.2" y2="283.4" stroke="#111" stroke-width="2.8" />
<rect x="158" y="190.4" width="5.5" height="11.2" fill="#fff"/>
<path d="M163.5,190.4 A5.6,5.6 0 0 1 163.5,201.6" fill="#fff" stroke="#111" stroke-width="2.6"/>
<rect x="158" y="211.8" width="5.5" height="11.2" fill="#fff"/>
<path d="M163.5,211.8 A5.6,5.6 0 0 1 163.5,223.0" fill="#fff" stroke="#111" stroke-width="2.6"/>
<rect x="158" y="233.4" width="5.5" height="11.2" fill="#fff"/>
<path d="M163.5,233.4 A5.6,5.6 0 0 1 163.5,244.6" fill="#fff" stroke="#111" stroke-width="2.6"/>
<polyline points="303.4,152.8 303.4,281.8" fill="none" stroke="#111" stroke-width="2.9"/>
<polygon points="304.7,156.3 310.3,162.3 310.3,176.6 304.7,176.6" fill="#f4f4f4"/>
<polygon points="304.7,258.5 310.3,258.5 310.3,272.6 304.7,278.6" fill="#f4f4f4"/>
<rect x="304.9" y="176.5" width="8.6" height="82.6" fill="#111"/>
<rect x="378.6" y="177.4" width="8.1" height="79.6" fill="#111"/>
<line x1="301" y1="183.9" x2="507.2" y2="183.9" stroke="#111" stroke-width="3.6" />
<line x1="301" y1="251.6" x2="507.2" y2="251.6" stroke="#111" stroke-width="3.4" />
<rect x="507.2" y="192" width="77" height="51.2" fill="#fff"/>
<rect x="507.2" y="196.6" width="76.6" height="42" fill="#d9d9d9"/>
<path d="M583.8,192 L592.2,192 L592.2,243 L583.8,243 Z" fill="#f2f2f2"/>
<path d="M507.2,192 L584.4,192 L587.5,192.3 L592.2,196.5 L592.2,238.7 L587.5,242.7 L584.4,243 L507.2,243" fill="none" stroke="#111" stroke-width="2.6"/>
<line x1="507.2" y1="196.6" x2="584" y2="196.6" stroke="#111" stroke-width="1.8" />
<line x1="507.2" y1="238.6" x2="584" y2="238.6" stroke="#111" stroke-width="1.8" />
<line x1="583.8" y1="192" x2="583.8" y2="243" stroke="#111" stroke-width="2.8" />
<rect x="440.2" y="198.2" width="32.8" height="38.8" fill="none" stroke="#111" stroke-width="3.2"/>
<line x1="440.2" y1="198.2" x2="473" y2="237" stroke="#111" stroke-width="1.9" />
<line x1="473" y1="198.2" x2="440.2" y2="237" stroke="#111" stroke-width="1.9" />
<line x1="140.3" y1="216.4" x2="607.8" y2="216.3" stroke="#111" stroke-width="1.8" stroke-dasharray="39.2 5 4.5 5.04"/>
<line x1="163.4" y1="40" x2="163.4" y2="151.9" stroke="#111" stroke-width="1.9" />
<line x1="379.7" y1="40" x2="379.7" y2="166.6" stroke="#111" stroke-width="1.9" />
<line x1="507.2" y1="39.6" x2="507.2" y2="252.2" stroke="#111" stroke-width="1.9" />
<line x1="592.2" y1="39.6" x2="592.2" y2="192" stroke="#111" stroke-width="1.9" />
<line x1="163.4" y1="52.5" x2="592.2" y2="52.5" stroke="#111" stroke-width="1.9" />
<polygon points="163.4,52.5 187.70,47.80 187.70,57.20" fill="#111"/>
<polygon points="379.7,52.5 355.00,57.20 355.00,47.80" fill="#111"/>
<polygon points="379.7,52.5 404.50,47.80 404.50,57.20" fill="#111"/>
<polygon points="507.2,52.5 483.50,57.20 483.50,47.80" fill="#111"/>
<polygon points="507.2,52.5 532.00,47.80 532.00,57.20" fill="#111"/>
<polygon points="592.2,52.5 568.50,57.20 568.50,47.80" fill="#111"/>
<line x1="432" y1="111.5" x2="559" y2="111.5" stroke="#111" stroke-width="1.9" />
<line x1="473.2" y1="99.5" x2="473.2" y2="340" stroke="#111" stroke-width="1.9" />
<polygon points="473.2,111.5 452.00,116.20 452.00,106.80" fill="#111"/>
<polygon points="507.2,111.5 532.50,106.80 532.50,116.20" fill="#111"/>
<line x1="420.5" y1="103" x2="420.5" y2="311.6" stroke="#111" stroke-width="1.9" />
<polygon points="420.5,166.8 415.80,140.50 425.20,140.50" fill="#111"/>
<polygon points="420.5,268.6 425.20,294.00 415.80,294.00" fill="#111"/>
<line x1="380.5" y1="166.8" x2="432" y2="166.8" stroke="#111" stroke-width="1.9" />
<line x1="380.5" y1="268.6" x2="432" y2="268.6" stroke="#111" stroke-width="1.9" />
<line x1="439.6" y1="237" x2="439.6" y2="340" stroke="#111" stroke-width="1.9" />
<line x1="396" y1="328.3" x2="523.6" y2="328.3" stroke="#111" stroke-width="1.9" />
<polygon points="439.6,328.3 415.00,333.00 415.00,323.60" fill="#111"/>
<polygon points="473.2,328.3 497.40,323.60 497.40,333.00" fill="#111"/>
<line x1="652" y1="154" x2="652" y2="282" stroke="#111" stroke-width="1.9" />
<polygon points="652,191.9 647.30,167.00 656.70,167.00" fill="#111"/>
<polygon points="652,243 656.70,268.00 647.30,268.00" fill="#111"/>
<line x1="592.2" y1="192.3" x2="664.3" y2="192.3" stroke="#111" stroke-width="1.9" />
<line x1="592.2" y1="243" x2="664.3" y2="243" stroke="#111" stroke-width="1.9" />
<line x1="711" y1="145" x2="711" y2="290.6" stroke="#111" stroke-width="1.9" />
<polygon points="711,183.6 706.30,166.00 715.70,166.00" fill="#111"/>
<polygon points="711,251.8 715.70,269.00 706.30,269.00" fill="#111"/>
<line x1="507.2" y1="183.7" x2="587.8" y2="183.7" stroke="#111" stroke-width="1.9" />
<line x1="596.3" y1="183.7" x2="643.7" y2="183.7" stroke="#111" stroke-width="1.9" />
<line x1="661.8" y1="183.7" x2="729.5" y2="183.7" stroke="#111" stroke-width="1.9" />
<line x1="507.2" y1="251.8" x2="643.7" y2="251.8" stroke="#111" stroke-width="1.9" />
<line x1="661.8" y1="251.8" x2="729.5" y2="251.8" stroke="#111" stroke-width="1.9" />
<line x1="50.6" y1="111" x2="50.6" y2="324.7" stroke="#111" stroke-width="1.9" />
<polygon points="50.6,110.8 55.30,135.00 45.90,135.00" fill="#111"/>
<polygon points="50.6,324.7 45.90,299.40 55.30,299.40" fill="#111"/>
<line x1="34" y1="110.6" x2="265" y2="110.6" stroke="#111" stroke-width="1.9" />
<line x1="34.4" y1="324.7" x2="158.6" y2="324.7" stroke="#111" stroke-width="1.9" />
<line x1="166.8" y1="324.7" x2="178.8" y2="324.7" stroke="#111" stroke-width="1.9" />
<line x1="187.9" y1="324.7" x2="265" y2="324.7" stroke="#111" stroke-width="1.9" />
<line x1="108.6" y1="151.5" x2="108.6" y2="282.8" stroke="#111" stroke-width="1.9" />
<polygon points="108.6,151.5 113.30,175.70 103.90,175.70" fill="#111"/>
<polygon points="108.6,282.8 103.90,259.60 113.30,259.60" fill="#111"/>
<line x1="94" y1="151.5" x2="163.4" y2="151.5" stroke="#111" stroke-width="1.9" />
<line x1="94.3" y1="282.8" x2="163.4" y2="282.8" stroke="#111" stroke-width="1.9" />
<line x1="163.5" y1="283.4" x2="163.5" y2="397" stroke="#111" stroke-width="1.9" />
<line x1="182.2" y1="283.4" x2="182.2" y2="397" stroke="#111" stroke-width="1.9" />
<line x1="107.5" y1="383.7" x2="249.3" y2="383.7" stroke="#111" stroke-width="1.9" />
<polygon points="163.5,383.7 140.50,388.40 140.50,379.00" fill="#111"/>
<polygon points="182.2,383.7 206.60,379.00 206.60,388.40" fill="#111"/>
<line x1="358.2" y1="268.6" x2="358.2" y2="397.5" stroke="#111" stroke-width="1.9" />
<line x1="379.9" y1="268.6" x2="379.9" y2="397.5" stroke="#111" stroke-width="1.9" />
<line x1="300.7" y1="383.7" x2="447.5" y2="383.7" stroke="#111" stroke-width="1.9" />
<polygon points="358.2,383.7 333.00,388.40 333.00,379.00" fill="#111"/>
<polygon points="379.9,383.7 404.60,379.00 404.60,388.40" fill="#111"/>
<line x1="453.5" y1="204" x2="577.4" y2="321" stroke="#111" stroke-width="1.9" />
<text x="0" y="0" transform="translate(270.0,46) scale(0.78,1)" text-anchor="middle" font-family="Liberation Sans" font-style="italic" font-size="29" fill="#111" stroke="#111" stroke-width="0.45">H</text>
<text x="0" y="0" transform="translate(449.75,46.7) scale(0.82,1)" text-anchor="middle" font-family="Liberation Sans" font-style="italic" font-size="29" fill="#111" stroke="#111" stroke-width="0.45">L2</text>
<text x="0" y="0" transform="translate(553.0,49.3) scale(0.8,1)" text-anchor="middle" font-family="Liberation Sans" font-style="italic" font-size="29" fill="#111" stroke="#111" stroke-width="0.45">L</text>
<text x="0" y="0" transform="translate(490.5,104) scale(0.85,1)" text-anchor="middle" font-family="Liberation Sans" font-style="italic" font-size="29" fill="#111" stroke="#111" stroke-width="0.45">L3</text>
<text x="0" y="0" transform="translate(456.0,322.8) scale(0.82,1)" text-anchor="middle" font-family="Liberation Sans" font-style="italic" font-size="29" fill="#111" stroke="#111" stroke-width="0.45">L4</text>
<text x="0" y="0" transform="translate(599.5,321.6) scale(0.73,1)" text-anchor="middle" font-family="Liberation Sans" font-style="italic" font-size="29" fill="#111" stroke="#111" stroke-width="0.45">SW</text>
<text x="0" y="0" transform="translate(227.60000000000002,377.6) scale(0.82,1)" text-anchor="middle" font-family="Liberation Sans" font-style="italic" font-size="29" fill="#111" stroke="#111" stroke-width="0.45">H2</text>
<text x="0" y="0" transform="translate(425.29999999999995,378.3) scale(0.82,1)" text-anchor="middle" font-family="Liberation Sans" font-style="italic" font-size="29" fill="#111" stroke="#111" stroke-width="0.45">H1</text>
<text x="0" y="0" transform="translate(418,121.6) rotate(-90) scale(0.8,1)" text-anchor="middle" font-family="Liberation Sans" font-style="italic" font-size="29" fill="#111" stroke="#111" stroke-width="0.45">D2</text>
<text x="0" y="0" transform="translate(46,213.25) rotate(-90) scale(0.8,1)" text-anchor="middle" font-family="Liberation Sans" font-style="italic" font-size="29" fill="#111" stroke="#111" stroke-width="0.45">D1</text>
<text x="0" y="0" transform="translate(101.8,214.5) rotate(-90) scale(0.8,1)" text-anchor="middle" font-family="Liberation Sans" font-style="italic" font-size="29" fill="#111" stroke="#111" stroke-width="0.45">D3</text>
<text x="0" y="0" transform="translate(645.2,220.25) rotate(-90) scale(0.8,1)" text-anchor="middle" font-family="Liberation Sans" font-style="italic" font-size="29" fill="#111" stroke="#111" stroke-width="0.45">D</text>
<text x="0" y="0" transform="translate(706,218.25) rotate(-90) scale(0.8,1)" text-anchor="middle" font-family="Liberation Sans" font-style="italic" font-size="29" fill="#111" stroke="#111" stroke-width="0.45">D4</text></g></svg></body></html>
